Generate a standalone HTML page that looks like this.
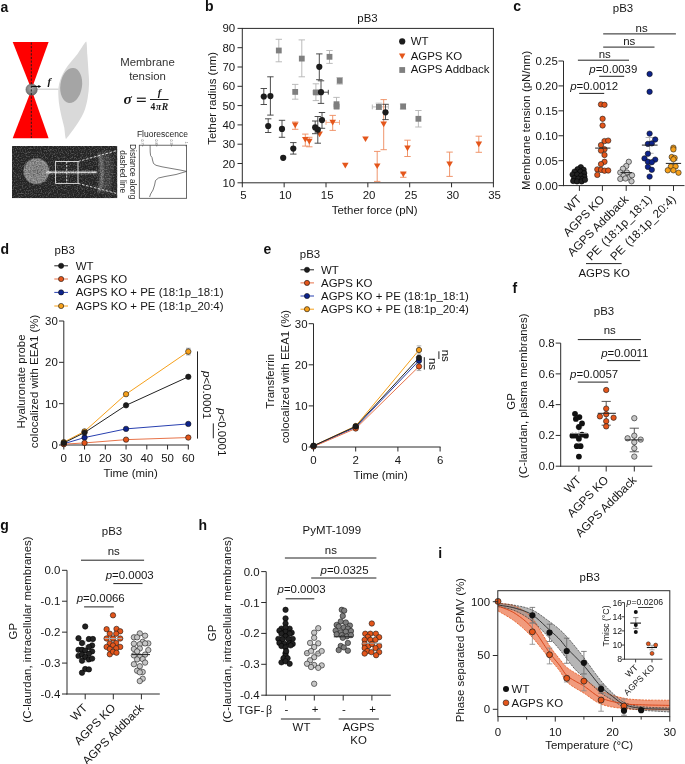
<!DOCTYPE html><html><head><meta charset="utf-8"><style>html,body{margin:0;padding:0;background:#fff;overflow:hidden;width:685px;height:764px;}svg{display:block;will-change:transform;font-family:"Liberation Sans",sans-serif;}</style></head><body><svg width="685" height="764" viewBox="0 0 685 764" font-family="Liberation Sans, sans-serif">
<rect width="685" height="764" fill="#fff"/>
<text x="0.5" y="11.5" font-size="14" fill="#111" font-weight="bold">a</text>
<polygon points="12.7,42 48.6,42 31.5,89.4" fill="#ff0000"/>
<polygon points="31.5,89.4 12.7,138.3 48.6,138.3" fill="#ff0000"/>
<path d="M86.13,41.46 C86.98,41.46 87.12,52.29 87.3,54.6 C87.66,59.22 88.03,64.33 88.32,69.2 C88.61,74.06 89.17,78.93 89.05,83.8 C88.93,88.66 88.52,93.53 87.59,98.39 C86.67,103.26 85.64,108.13 83.5,112.99 C81.36,117.86 77.66,123.26 74.74,127.59 C73.58,129.32 66.69,138.98 65.99,138.98 C65.28,138.98 64.58,129.32 64.23,127.59 C63.36,123.26 61.68,117.86 60.73,112.99 C59.78,108.13 58.81,103.26 58.54,98.39 C58.27,93.53 57.98,88.66 59.12,83.8 C60.27,78.93 62.41,74.06 65.4,69.2 C68.39,64.33 73.63,59.22 77.08,54.6 C78.81,52.29 85.28,41.46 86.13,41.46 Z" fill="#d9d9d9"/>
<ellipse cx="71.2" cy="85.5" rx="10.8" ry="17.6" transform="rotate(8 71.2 85.5)" fill="#a5a5a5"/>
<line x1="37.5" y1="89.2" x2="58.5" y2="89.2" stroke="#d0d0d0" stroke-width="1.2"/>
<defs><radialGradient id="bead" cx="0.45" cy="0.4" r="0.6"><stop offset="0" stop-color="#a8a8a8"/><stop offset="1" stop-color="#6e6e6e"/></radialGradient></defs>
<circle cx="31.6" cy="89.6" r="5.7" fill="url(#bead)" stroke="#555" stroke-width="0.5"/>
<line x1="31.3" y1="42.5" x2="31.3" y2="138" stroke="#1a1a1a" stroke-width="0.9" stroke-dasharray="2.2,1.4"/>
<line x1="31.5" y1="86.4" x2="39.2" y2="86.4" stroke="#000" stroke-width="1"/>
<polygon points="41.2,86.4 38.4,84.9 38.4,87.9" fill="#000"/>
<text x="47.6" y="84.6" font-size="11" fill="#1a1a1a" font-weight="bold" font-style="italic" font-family="Liberation Serif">f</text>
<text x="147.5" y="66" font-size="11.4" fill="#333" text-anchor="middle">Membrane</text>
<text x="147.5" y="80" font-size="11.4" fill="#333" text-anchor="middle">tension</text>
<text x="123.4" y="103.8" font-size="15.5" fill="#1a1a1a" font-weight="bold" font-style="italic" font-family="Liberation Serif" transform="translate(123.4 0) scale(1.0 1) translate(-123.4 0)">σ</text>
<rect x="136.9" y="97.6" width="8.9" height="1.2" fill="#1a1a1a"/>
<rect x="136.9" y="100.8" width="8.9" height="1.2" fill="#1a1a1a"/>
<line x1="150" y1="99.5" x2="168.6" y2="99.5" stroke="#222" stroke-width="1"/>
<text x="159.4" y="95.6" font-size="10.5" fill="#1a1a1a" text-anchor="middle" font-weight="bold" font-style="italic" font-family="Liberation Serif">f</text>
<text x="159.6" y="110.0" font-size="9.6" text-anchor="middle" font-family="Liberation Serif" fill="#1a1a1a" font-weight="bold" letter-spacing="0.6">4<tspan font-style="italic">πR</tspan></text>
<defs><filter id="nzw" x="0" y="0" width="100%" height="100%"><feTurbulence type="fractalNoise" baseFrequency="0.75" numOctaves="2" seed="5"/><feColorMatrix type="matrix" values="0 0 0 0 1  0 0 0 0 1  0 0 0 0 1  3.2 0 0 0 -1.55"/><feGaussianBlur stdDeviation="0.45"/></filter><filter id="nzb" x="0" y="0" width="100%" height="100%"><feTurbulence type="fractalNoise" baseFrequency="0.75" numOctaves="2" seed="5"/><feColorMatrix type="matrix" values="0 0 0 0 0  0 0 0 0 0  0 0 0 0 0  -3.2 0 0 0 1.65"/><feGaussianBlur stdDeviation="0.45"/></filter><radialGradient id="disc" cx="0.5" cy="0.5" r="0.5"><stop offset="0" stop-color="#7c7c7c"/><stop offset="0.72" stop-color="#8c8c8c"/><stop offset="0.86" stop-color="#888"/><stop offset="1" stop-color="#2e2e2e" stop-opacity="0"/></radialGradient><radialGradient id="glow" cx="0.5" cy="0.5" r="0.5"><stop offset="0" stop-color="#ddd"/><stop offset="1" stop-color="#ddd" stop-opacity="0"/></radialGradient><filter id="blur1"><feGaussianBlur stdDeviation="0.7"/></filter><filter id="blur2"><feGaussianBlur stdDeviation="1.6"/></filter><filter id="blur15" x="-50%" y="-20%" width="200%" height="140%"><feGaussianBlur stdDeviation="1.2"/></filter><clipPath id="micclip"><rect x="12" y="146" width="105.4" height="52.3"/></clipPath></defs>
<g clip-path="url(#micclip)">
<rect x="12" y="146" width="105.4" height="52.3" fill="#2a2a2a"/>
<circle cx="36.4" cy="171.2" r="14.2" fill="url(#disc)"/>
<rect x="46" y="170.6" width="52" height="3.6" fill="#777" filter="url(#blur2)" opacity="0.6"/><rect x="46" y="171.5" width="51" height="1.7" fill="#d0d0d0" filter="url(#blur1)"/>
<ellipse cx="48.8" cy="172.2" rx="3" ry="1.8" fill="url(#glow)"/>
<ellipse cx="94" cy="172.3" rx="3" ry="1.5" fill="url(#glow)" opacity="0.7"/>
<ellipse cx="106" cy="172" rx="7" ry="22" fill="#444" filter="url(#blur2)"/>
<path d="M99,153 Q105.5,172 99,192" stroke="#7c7c7c" stroke-width="3" fill="none" filter="url(#blur15)"/>
<rect x="12" y="146" width="105.4" height="52.3" filter="url(#nzw)" opacity="0.22"/>
<rect x="12" y="146" width="105.4" height="52.3" filter="url(#nzb)" opacity="0.30"/>
</g>
<rect x="55.6" y="161.5" width="22.4" height="21.9" fill="none" stroke="#e6e6e6" stroke-width="0.9"/>
<line x1="66.7" y1="161.5" x2="66.7" y2="183.4" stroke="#e6e6e6" stroke-width="0.9" stroke-dasharray="2.2,1.3"/>
<line x1="78" y1="161.5" x2="118" y2="150.3" stroke="#e6e6e6" stroke-width="0.9" stroke-dasharray="2.6,1.5"/>
<line x1="78" y1="183.4" x2="118" y2="193.8" stroke="#e6e6e6" stroke-width="0.9" stroke-dasharray="2.6,1.5"/>
<text x="162.4" y="136.6" font-size="8.5" fill="#222" text-anchor="middle">Fluorescence</text>
<rect x="139.3" y="145.2" width="47.3" height="53.1" fill="none" stroke="#444" stroke-width="0.8"/>
<text x="141.3" y="139.3" font-size="3.9" fill="#666" transform="rotate(90 141.3 139.3)">0.7</text>
<line x1="142.6" y1="145.2" x2="142.6" y2="146.4" stroke="#555" stroke-width="0.7"/>
<text x="155.4" y="139.3" font-size="3.9" fill="#666" transform="rotate(90 155.4 139.3)">0.8</text>
<line x1="156.7" y1="145.2" x2="156.7" y2="146.4" stroke="#555" stroke-width="0.7"/>
<text x="170.2" y="139.3" font-size="3.9" fill="#666" transform="rotate(90 170.2 139.3)">0.9</text>
<line x1="171.5" y1="145.2" x2="171.5" y2="146.4" stroke="#555" stroke-width="0.7"/>
<text x="184.7" y="141.6" font-size="3.9" fill="#666" transform="rotate(90 184.7 141.6)">1</text>
<line x1="186" y1="145.2" x2="186" y2="146.4" stroke="#555" stroke-width="0.7"/>
<polyline points="150.1,145.2 150.2,152 150.6,155.5 152,157.5 152.5,160 153.5,163.5 156,165.3 162,166.8 172,168.6 180,170 186.6,171.4 176,174.5 165,176.5 158.5,178 155.5,180.5 154.6,185 153,190 150.6,194 149.6,197" fill="none" stroke="#444" stroke-width="0.7"/>
<text x="129.6" y="171.7" font-size="8.4" fill="#222" text-anchor="middle" transform="rotate(90 129.6 171.7)">Distance along</text>
<text x="120.3" y="171.7" font-size="8.4" fill="#222" text-anchor="middle" transform="rotate(90 120.3 171.7)">dashed line</text>
<text x="205" y="11.3" font-size="14" fill="#111" font-weight="bold">b</text>
<text x="367.5" y="21.6" font-size="11.45" fill="#161616" text-anchor="middle">pB3</text>
<rect x="242.3" y="28.4" width="251.1" height="154.4" fill="none" stroke="#2b2b2b" stroke-width="1"/>
<line x1="237.5" y1="182.8" x2="242.3" y2="182.8" stroke="#2b2b2b" stroke-width="1"/>
<text x="235.2" y="186.8" font-size="11.45" fill="#161616" text-anchor="end">10</text>
<line x1="237.5" y1="163.5" x2="242.3" y2="163.5" stroke="#2b2b2b" stroke-width="1"/>
<text x="235.2" y="167.5" font-size="11.45" fill="#161616" text-anchor="end">20</text>
<line x1="237.5" y1="144.2" x2="242.3" y2="144.2" stroke="#2b2b2b" stroke-width="1"/>
<text x="235.2" y="148.2" font-size="11.45" fill="#161616" text-anchor="end">30</text>
<line x1="237.5" y1="124.9" x2="242.3" y2="124.9" stroke="#2b2b2b" stroke-width="1"/>
<text x="235.2" y="128.9" font-size="11.45" fill="#161616" text-anchor="end">40</text>
<line x1="237.5" y1="105.6" x2="242.3" y2="105.6" stroke="#2b2b2b" stroke-width="1"/>
<text x="235.2" y="109.6" font-size="11.45" fill="#161616" text-anchor="end">50</text>
<line x1="237.5" y1="86.3" x2="242.3" y2="86.3" stroke="#2b2b2b" stroke-width="1"/>
<text x="235.2" y="90.3" font-size="11.45" fill="#161616" text-anchor="end">60</text>
<line x1="237.5" y1="67" x2="242.3" y2="67" stroke="#2b2b2b" stroke-width="1"/>
<text x="235.2" y="71" font-size="11.45" fill="#161616" text-anchor="end">70</text>
<line x1="237.5" y1="47.7" x2="242.3" y2="47.7" stroke="#2b2b2b" stroke-width="1"/>
<text x="235.2" y="51.7" font-size="11.45" fill="#161616" text-anchor="end">80</text>
<line x1="237.5" y1="28.4" x2="242.3" y2="28.4" stroke="#2b2b2b" stroke-width="1"/>
<text x="235.2" y="32.4" font-size="11.45" fill="#161616" text-anchor="end">90</text>
<line x1="242.3" y1="182.8" x2="242.3" y2="187.3" stroke="#2b2b2b" stroke-width="1"/>
<text x="243.5" y="198.9" font-size="11.45" fill="#161616" text-anchor="middle">5</text>
<line x1="284.15" y1="182.8" x2="284.15" y2="187.3" stroke="#2b2b2b" stroke-width="1"/>
<text x="285.35" y="198.9" font-size="11.45" fill="#161616" text-anchor="middle">10</text>
<line x1="326" y1="182.8" x2="326" y2="187.3" stroke="#2b2b2b" stroke-width="1"/>
<text x="327.2" y="198.9" font-size="11.45" fill="#161616" text-anchor="middle">15</text>
<line x1="367.85" y1="182.8" x2="367.85" y2="187.3" stroke="#2b2b2b" stroke-width="1"/>
<text x="369.05" y="198.9" font-size="11.45" fill="#161616" text-anchor="middle">20</text>
<line x1="409.7" y1="182.8" x2="409.7" y2="187.3" stroke="#2b2b2b" stroke-width="1"/>
<text x="410.9" y="198.9" font-size="11.45" fill="#161616" text-anchor="middle">25</text>
<line x1="451.55" y1="182.8" x2="451.55" y2="187.3" stroke="#2b2b2b" stroke-width="1"/>
<text x="452.75" y="198.9" font-size="11.45" fill="#161616" text-anchor="middle">30</text>
<line x1="493.4" y1="182.8" x2="493.4" y2="187.3" stroke="#2b2b2b" stroke-width="1"/>
<text x="494.6" y="198.9" font-size="11.45" fill="#161616" text-anchor="middle">35</text>
<text x="374.7" y="213.6" font-size="11.45" fill="#161616" text-anchor="middle">Tether force (pN)</text>
<text x="216.2" y="98.3" font-size="11.45" fill="#161616" text-anchor="middle" transform="rotate(-90 216.2 98.3)">Tether radius (nm)</text>
<line x1="278.8" y1="39.3" x2="278.8" y2="61.8" stroke="#b3b3b3" stroke-width="0.9"/>
<line x1="275.6" y1="39.3" x2="282" y2="39.3" stroke="#b3b3b3" stroke-width="0.9"/>
<line x1="275.6" y1="61.8" x2="282" y2="61.8" stroke="#b3b3b3" stroke-width="0.9"/>
<line x1="301.8" y1="39.9" x2="301.8" y2="76.8" stroke="#b3b3b3" stroke-width="0.9"/>
<line x1="298.6" y1="39.9" x2="305" y2="39.9" stroke="#b3b3b3" stroke-width="0.9"/>
<line x1="298.6" y1="76.8" x2="305" y2="76.8" stroke="#b3b3b3" stroke-width="0.9"/>
<line x1="329.5" y1="50.5" x2="329.5" y2="63.4" stroke="#b3b3b3" stroke-width="0.9"/>
<line x1="326.3" y1="50.5" x2="332.7" y2="50.5" stroke="#b3b3b3" stroke-width="0.9"/>
<line x1="326.3" y1="63.4" x2="332.7" y2="63.4" stroke="#b3b3b3" stroke-width="0.9"/>
<line x1="295.2" y1="84.4" x2="295.2" y2="99.2" stroke="#b3b3b3" stroke-width="0.9"/>
<line x1="292" y1="84.4" x2="298.4" y2="84.4" stroke="#b3b3b3" stroke-width="0.9"/>
<line x1="292" y1="99.2" x2="298.4" y2="99.2" stroke="#b3b3b3" stroke-width="0.9"/>
<line x1="315.9" y1="83.8" x2="315.9" y2="100.6" stroke="#b3b3b3" stroke-width="0.9"/>
<line x1="312.7" y1="83.8" x2="319.1" y2="83.8" stroke="#b3b3b3" stroke-width="0.9"/>
<line x1="312.7" y1="100.6" x2="319.1" y2="100.6" stroke="#b3b3b3" stroke-width="0.9"/>
<line x1="313" y1="92.4" x2="318" y2="92.4" stroke="#b3b3b3" stroke-width="0.9"/>
<line x1="313" y1="90" x2="313" y2="94.8" stroke="#b3b3b3" stroke-width="0.9"/>
<line x1="318" y1="90" x2="318" y2="94.8" stroke="#b3b3b3" stroke-width="0.9"/>
<line x1="339.7" y1="77.5" x2="339.7" y2="84.1" stroke="#b3b3b3" stroke-width="0.9"/>
<line x1="336.5" y1="77.5" x2="342.9" y2="77.5" stroke="#b3b3b3" stroke-width="0.9"/>
<line x1="336.5" y1="84.1" x2="342.9" y2="84.1" stroke="#b3b3b3" stroke-width="0.9"/>
<line x1="336.5" y1="97.4" x2="336.5" y2="108" stroke="#b3b3b3" stroke-width="0.9"/>
<line x1="333.3" y1="97.4" x2="339.7" y2="97.4" stroke="#b3b3b3" stroke-width="0.9"/>
<line x1="333.3" y1="108" x2="339.7" y2="108" stroke="#b3b3b3" stroke-width="0.9"/>
<line x1="378.9" y1="103.2" x2="378.9" y2="109.5" stroke="#b3b3b3" stroke-width="0.9"/>
<line x1="375.7" y1="103.2" x2="382.1" y2="103.2" stroke="#b3b3b3" stroke-width="0.9"/>
<line x1="375.7" y1="109.5" x2="382.1" y2="109.5" stroke="#b3b3b3" stroke-width="0.9"/>
<line x1="372.3" y1="106.9" x2="388.4" y2="106.9" stroke="#b3b3b3" stroke-width="0.9"/>
<line x1="372.3" y1="104.5" x2="372.3" y2="109.3" stroke="#b3b3b3" stroke-width="0.9"/>
<line x1="388.4" y1="104.5" x2="388.4" y2="109.3" stroke="#b3b3b3" stroke-width="0.9"/>
<line x1="403.1" y1="104" x2="403.1" y2="109" stroke="#b3b3b3" stroke-width="0.9"/>
<line x1="399.9" y1="104" x2="406.3" y2="104" stroke="#b3b3b3" stroke-width="0.9"/>
<line x1="399.9" y1="109" x2="406.3" y2="109" stroke="#b3b3b3" stroke-width="0.9"/>
<line x1="418.4" y1="110.5" x2="418.4" y2="127" stroke="#b3b3b3" stroke-width="0.9"/>
<line x1="415.2" y1="110.5" x2="421.6" y2="110.5" stroke="#b3b3b3" stroke-width="0.9"/>
<line x1="415.2" y1="127" x2="421.6" y2="127" stroke="#b3b3b3" stroke-width="0.9"/>
<rect x="275.9" y="47.6" width="5.8" height="5.8" fill="#7f7f7f"/>
<rect x="298.9" y="55.7" width="5.8" height="5.8" fill="#7f7f7f"/>
<rect x="326.6" y="53.9" width="5.8" height="5.8" fill="#7f7f7f"/>
<rect x="292.3" y="89" width="5.8" height="5.8" fill="#7f7f7f"/>
<rect x="313" y="89.5" width="5.8" height="5.8" fill="#7f7f7f"/>
<rect x="336.8" y="77.9" width="5.8" height="5.8" fill="#7f7f7f"/>
<rect x="333.6" y="101.3" width="5.8" height="5.8" fill="#7f7f7f"/>
<rect x="333.7" y="103.7" width="5.8" height="5.8" fill="#7f7f7f"/>
<rect x="376" y="104" width="5.8" height="5.8" fill="#7f7f7f"/>
<rect x="400.2" y="103.6" width="5.8" height="5.8" fill="#7f7f7f"/>
<rect x="415.5" y="115.9" width="5.8" height="5.8" fill="#7f7f7f"/>
<line x1="295.2" y1="122" x2="295.2" y2="129.3" stroke="#ee8a5c" stroke-width="0.9"/>
<line x1="292" y1="122" x2="298.4" y2="122" stroke="#ee8a5c" stroke-width="0.9"/>
<line x1="292" y1="129.3" x2="298.4" y2="129.3" stroke="#ee8a5c" stroke-width="0.9"/>
<line x1="305.3" y1="134.1" x2="305.3" y2="146.1" stroke="#ee8a5c" stroke-width="0.9"/>
<line x1="302.1" y1="134.1" x2="308.5" y2="134.1" stroke="#ee8a5c" stroke-width="0.9"/>
<line x1="302.1" y1="146.1" x2="308.5" y2="146.1" stroke="#ee8a5c" stroke-width="0.9"/>
<line x1="309.3" y1="137.3" x2="309.3" y2="146.8" stroke="#ee8a5c" stroke-width="0.9"/>
<line x1="306.1" y1="137.3" x2="312.5" y2="137.3" stroke="#ee8a5c" stroke-width="0.9"/>
<line x1="306.1" y1="146.8" x2="312.5" y2="146.8" stroke="#ee8a5c" stroke-width="0.9"/>
<line x1="332.7" y1="115.4" x2="332.7" y2="130.4" stroke="#ee8a5c" stroke-width="0.9"/>
<line x1="329.5" y1="115.4" x2="335.9" y2="115.4" stroke="#ee8a5c" stroke-width="0.9"/>
<line x1="329.5" y1="130.4" x2="335.9" y2="130.4" stroke="#ee8a5c" stroke-width="0.9"/>
<line x1="326" y1="122.4" x2="339.5" y2="122.4" stroke="#f2a27c" stroke-width="0.9"/>
<line x1="326" y1="120" x2="326" y2="124.8" stroke="#f2a27c" stroke-width="0.9"/>
<line x1="339.5" y1="120" x2="339.5" y2="124.8" stroke="#f2a27c" stroke-width="0.9"/>
<line x1="383.7" y1="99.6" x2="383.7" y2="149.7" stroke="#ee8a5c" stroke-width="0.9"/>
<line x1="380.5" y1="99.6" x2="386.9" y2="99.6" stroke="#ee8a5c" stroke-width="0.9"/>
<line x1="380.5" y1="149.7" x2="386.9" y2="149.7" stroke="#ee8a5c" stroke-width="0.9"/>
<line x1="377.2" y1="151.4" x2="377.2" y2="181.4" stroke="#ee8a5c" stroke-width="0.9"/>
<line x1="374" y1="151.4" x2="380.4" y2="151.4" stroke="#ee8a5c" stroke-width="0.9"/>
<line x1="374" y1="181.4" x2="380.4" y2="181.4" stroke="#ee8a5c" stroke-width="0.9"/>
<line x1="407.5" y1="140.2" x2="407.5" y2="156.5" stroke="#ee8a5c" stroke-width="0.9"/>
<line x1="404.3" y1="140.2" x2="410.7" y2="140.2" stroke="#ee8a5c" stroke-width="0.9"/>
<line x1="404.3" y1="156.5" x2="410.7" y2="156.5" stroke="#ee8a5c" stroke-width="0.9"/>
<line x1="403.3" y1="173" x2="403.3" y2="177.3" stroke="#ee8a5c" stroke-width="0.9"/>
<line x1="400.1" y1="173" x2="406.5" y2="173" stroke="#ee8a5c" stroke-width="0.9"/>
<line x1="400.1" y1="177.3" x2="406.5" y2="177.3" stroke="#ee8a5c" stroke-width="0.9"/>
<line x1="449.6" y1="152.1" x2="449.6" y2="176.4" stroke="#ee8a5c" stroke-width="0.9"/>
<line x1="446.4" y1="152.1" x2="452.8" y2="152.1" stroke="#ee8a5c" stroke-width="0.9"/>
<line x1="446.4" y1="176.4" x2="452.8" y2="176.4" stroke="#ee8a5c" stroke-width="0.9"/>
<line x1="478.8" y1="136.2" x2="478.8" y2="152.3" stroke="#ee8a5c" stroke-width="0.9"/>
<line x1="475.6" y1="136.2" x2="482" y2="136.2" stroke="#ee8a5c" stroke-width="0.9"/>
<line x1="475.6" y1="152.3" x2="482" y2="152.3" stroke="#ee8a5c" stroke-width="0.9"/>
<polygon points="291.9,122.6 298.5,122.6 295.2,128.3" fill="#e4561b"/>
<polygon points="302,136.9 308.6,136.9 305.3,142.6" fill="#e4561b"/>
<polygon points="306,138.8 312.6,138.8 309.3,144.5" fill="#e4561b"/>
<polygon points="316.3,131.5 322.9,131.5 319.6,137.2" fill="#e4561b"/>
<polygon points="329.4,119.8 336,119.8 332.7,125.5" fill="#e4561b"/>
<polygon points="362.2,136.4 368.8,136.4 365.5,142.1" fill="#e4561b"/>
<polygon points="380.4,121.5 387,121.5 383.7,127.2" fill="#e4561b"/>
<polygon points="342,162.7 348.6,162.7 345.3,168.4" fill="#e4561b"/>
<polygon points="373.9,163.4 380.5,163.4 377.2,169.1" fill="#e4561b"/>
<polygon points="404.2,145.5 410.8,145.5 407.5,151.2" fill="#e4561b"/>
<polygon points="400,171.6 406.6,171.6 403.3,177.3" fill="#e4561b"/>
<polygon points="446.3,161.6 452.9,161.6 449.6,167.3" fill="#e4561b"/>
<polygon points="475.5,141.5 482.1,141.5 478.8,147.2" fill="#e4561b"/>
<line x1="263.8" y1="88.5" x2="263.8" y2="104.5" stroke="#3a3a3a" stroke-width="0.9"/>
<line x1="260.6" y1="88.5" x2="267" y2="88.5" stroke="#3a3a3a" stroke-width="0.9"/>
<line x1="260.6" y1="104.5" x2="267" y2="104.5" stroke="#3a3a3a" stroke-width="0.9"/>
<line x1="270.4" y1="76.8" x2="270.4" y2="115.1" stroke="#3a3a3a" stroke-width="0.9"/>
<line x1="267.2" y1="76.8" x2="273.6" y2="76.8" stroke="#3a3a3a" stroke-width="0.9"/>
<line x1="267.2" y1="115.1" x2="273.6" y2="115.1" stroke="#3a3a3a" stroke-width="0.9"/>
<line x1="319.3" y1="53.9" x2="319.3" y2="79.7" stroke="#3a3a3a" stroke-width="0.9"/>
<line x1="316.1" y1="53.9" x2="322.5" y2="53.9" stroke="#3a3a3a" stroke-width="0.9"/>
<line x1="316.1" y1="79.7" x2="322.5" y2="79.7" stroke="#3a3a3a" stroke-width="0.9"/>
<line x1="321" y1="80.8" x2="321" y2="103.4" stroke="#3a3a3a" stroke-width="0.9"/>
<line x1="317.8" y1="80.8" x2="324.2" y2="80.8" stroke="#3a3a3a" stroke-width="0.9"/>
<line x1="317.8" y1="103.4" x2="324.2" y2="103.4" stroke="#3a3a3a" stroke-width="0.9"/>
<line x1="321" y1="92.2" x2="328.3" y2="92.2" stroke="#3a3a3a" stroke-width="0.9"/>
<line x1="321" y1="89.8" x2="321" y2="94.6" stroke="#3a3a3a" stroke-width="0.9"/>
<line x1="328.3" y1="89.8" x2="328.3" y2="94.6" stroke="#3a3a3a" stroke-width="0.9"/>
<line x1="268.2" y1="118.8" x2="268.2" y2="132.5" stroke="#3a3a3a" stroke-width="0.9"/>
<line x1="265" y1="118.8" x2="271.4" y2="118.8" stroke="#3a3a3a" stroke-width="0.9"/>
<line x1="265" y1="132.5" x2="271.4" y2="132.5" stroke="#3a3a3a" stroke-width="0.9"/>
<line x1="282" y1="120.3" x2="282" y2="137.3" stroke="#3a3a3a" stroke-width="0.9"/>
<line x1="278.8" y1="120.3" x2="285.2" y2="120.3" stroke="#3a3a3a" stroke-width="0.9"/>
<line x1="278.8" y1="137.3" x2="285.2" y2="137.3" stroke="#3a3a3a" stroke-width="0.9"/>
<line x1="293.3" y1="142.6" x2="293.3" y2="154.1" stroke="#3a3a3a" stroke-width="0.9"/>
<line x1="290.1" y1="142.6" x2="296.5" y2="142.6" stroke="#3a3a3a" stroke-width="0.9"/>
<line x1="290.1" y1="154.1" x2="296.5" y2="154.1" stroke="#3a3a3a" stroke-width="0.9"/>
<line x1="315.2" y1="121" x2="315.2" y2="133.7" stroke="#3a3a3a" stroke-width="0.9"/>
<line x1="312" y1="121" x2="318.4" y2="121" stroke="#3a3a3a" stroke-width="0.9"/>
<line x1="312" y1="133.7" x2="318.4" y2="133.7" stroke="#3a3a3a" stroke-width="0.9"/>
<line x1="317.8" y1="116.5" x2="317.8" y2="143.2" stroke="#3a3a3a" stroke-width="0.9"/>
<line x1="314.6" y1="116.5" x2="321" y2="116.5" stroke="#3a3a3a" stroke-width="0.9"/>
<line x1="314.6" y1="143.2" x2="321" y2="143.2" stroke="#3a3a3a" stroke-width="0.9"/>
<line x1="322" y1="112.5" x2="322" y2="128.3" stroke="#3a3a3a" stroke-width="0.9"/>
<line x1="318.8" y1="112.5" x2="325.2" y2="112.5" stroke="#3a3a3a" stroke-width="0.9"/>
<line x1="318.8" y1="128.3" x2="325.2" y2="128.3" stroke="#3a3a3a" stroke-width="0.9"/>
<line x1="385.5" y1="104.3" x2="385.5" y2="119.6" stroke="#3a3a3a" stroke-width="0.9"/>
<line x1="382.3" y1="104.3" x2="388.7" y2="104.3" stroke="#3a3a3a" stroke-width="0.9"/>
<line x1="382.3" y1="119.6" x2="388.7" y2="119.6" stroke="#3a3a3a" stroke-width="0.9"/>
<circle cx="263.8" cy="96.5" r="3.1" fill="#1c1c1c"/>
<circle cx="270.4" cy="96.1" r="3.1" fill="#1c1c1c"/>
<circle cx="319.3" cy="66.8" r="3.1" fill="#1c1c1c"/>
<circle cx="321" cy="92.2" r="3.1" fill="#1c1c1c"/>
<circle cx="268.2" cy="126" r="3.1" fill="#1c1c1c"/>
<circle cx="282" cy="128.9" r="3.1" fill="#1c1c1c"/>
<circle cx="283.2" cy="157.8" r="3.1" fill="#1c1c1c"/>
<circle cx="293.3" cy="148.6" r="3.1" fill="#1c1c1c"/>
<circle cx="315.2" cy="127.4" r="3.1" fill="#1c1c1c"/>
<circle cx="317.8" cy="129.7" r="3.1" fill="#1c1c1c"/>
<circle cx="322" cy="120.1" r="3.1" fill="#1c1c1c"/>
<circle cx="385.5" cy="112.3" r="3.1" fill="#1c1c1c"/>
<circle cx="402.2" cy="41.4" r="3.1" fill="#1c1c1c"/>
<polygon points="399,53.5 405.4,53.5 402.2,59.3" fill="#e4561b"/>
<rect x="399.3" y="67.1" width="5.8" height="5.8" fill="#7f7f7f"/>
<text x="410.7" y="44.7" font-size="11.45" fill="#161616">WT</text>
<text x="410.7" y="59.5" font-size="11.45" fill="#161616">AGPS KO</text>
<text x="410.7" y="73.3" font-size="11.45" fill="#161616">AGPS Addback</text>
<text x="513.2" y="11.3" font-size="14" fill="#111" font-weight="bold">c</text>
<text x="623" y="12.4" font-size="11.45" fill="#161616" text-anchor="middle">pB3</text>
<line x1="563.5" y1="61" x2="563.5" y2="186.1" stroke="#2b2b2b" stroke-width="1"/>
<line x1="563" y1="185.6" x2="684.5" y2="185.6" stroke="#2b2b2b" stroke-width="1"/>
<line x1="558.5" y1="185.6" x2="563.5" y2="185.6" stroke="#2b2b2b" stroke-width="1"/>
<text x="557.8" y="189.6" font-size="11.45" fill="#161616" text-anchor="end">0.00</text>
<line x1="558.5" y1="160.68" x2="563.5" y2="160.68" stroke="#2b2b2b" stroke-width="1"/>
<text x="557.8" y="164.68" font-size="11.45" fill="#161616" text-anchor="end">0.05</text>
<line x1="558.5" y1="135.76" x2="563.5" y2="135.76" stroke="#2b2b2b" stroke-width="1"/>
<text x="557.8" y="139.76" font-size="11.45" fill="#161616" text-anchor="end">0.10</text>
<line x1="558.5" y1="110.84" x2="563.5" y2="110.84" stroke="#2b2b2b" stroke-width="1"/>
<text x="557.8" y="114.84" font-size="11.45" fill="#161616" text-anchor="end">0.15</text>
<line x1="558.5" y1="85.92" x2="563.5" y2="85.92" stroke="#2b2b2b" stroke-width="1"/>
<text x="557.8" y="89.92" font-size="11.45" fill="#161616" text-anchor="end">0.20</text>
<line x1="558.5" y1="61" x2="563.5" y2="61" stroke="#2b2b2b" stroke-width="1"/>
<text x="557.8" y="65" font-size="11.45" fill="#161616" text-anchor="end">0.25</text>
<line x1="579.4" y1="185.6" x2="579.4" y2="190.9" stroke="#2b2b2b" stroke-width="1"/>
<line x1="602.4" y1="185.6" x2="602.4" y2="190.9" stroke="#2b2b2b" stroke-width="1"/>
<line x1="626.2" y1="185.6" x2="626.2" y2="190.9" stroke="#2b2b2b" stroke-width="1"/>
<line x1="649.7" y1="185.6" x2="649.7" y2="190.9" stroke="#2b2b2b" stroke-width="1"/>
<line x1="673.5" y1="185.6" x2="673.5" y2="190.9" stroke="#2b2b2b" stroke-width="1"/>
<text x="530.5" y="120.4" font-size="11.45" fill="#161616" text-anchor="middle" transform="rotate(-90 530.5 120.4)">Membrane tension (pN/nm)</text>
<line x1="603.2" y1="33.9" x2="675.9" y2="33.9" stroke="#222" stroke-width="1"/>
<line x1="603.2" y1="47.1" x2="654.5" y2="47.1" stroke="#222" stroke-width="1"/>
<line x1="577.9" y1="60.2" x2="629" y2="60.2" stroke="#222" stroke-width="1"/>
<line x1="599.2" y1="76.3" x2="624.2" y2="76.3" stroke="#222" stroke-width="1"/>
<line x1="579.2" y1="93.4" x2="604.2" y2="93.4" stroke="#222" stroke-width="1"/>
<text x="641.6" y="31.9" font-size="11.45" fill="#161616" text-anchor="middle">ns</text>
<text x="629.3" y="44.8" font-size="11.45" fill="#161616" text-anchor="middle">ns</text>
<text x="604.7" y="57.6" font-size="11.45" fill="#161616" text-anchor="middle">ns</text>
<text x="589.3" y="73.2" font-size="11.45" fill="#161616"><tspan font-style="italic">p</tspan>=0.0039</text>
<text x="570.2" y="89.6" font-size="11.45" fill="#161616"><tspan font-style="italic">p</tspan>=0.0012</text>
<circle cx="580.8" cy="167.2" r="2.7" fill="#222" stroke="#000" stroke-width="0.6"/>
<circle cx="577.6" cy="169.2" r="2.7" fill="#222" stroke="#000" stroke-width="0.6"/>
<circle cx="583.6" cy="169.8" r="2.7" fill="#222" stroke="#000" stroke-width="0.6"/>
<circle cx="574.6" cy="171.6" r="2.7" fill="#222" stroke="#000" stroke-width="0.6"/>
<circle cx="580.4" cy="171.6" r="2.7" fill="#222" stroke="#000" stroke-width="0.6"/>
<circle cx="584.2" cy="173.2" r="2.7" fill="#222" stroke="#000" stroke-width="0.6"/>
<circle cx="572.6" cy="174.6" r="2.7" fill="#222" stroke="#000" stroke-width="0.6"/>
<circle cx="577.2" cy="174.6" r="2.7" fill="#222" stroke="#000" stroke-width="0.6"/>
<circle cx="581.2" cy="175.6" r="2.7" fill="#222" stroke="#000" stroke-width="0.6"/>
<circle cx="584.4" cy="176.8" r="2.7" fill="#222" stroke="#000" stroke-width="0.6"/>
<circle cx="574.2" cy="178.2" r="2.7" fill="#222" stroke="#000" stroke-width="0.6"/>
<circle cx="578.2" cy="178.6" r="2.7" fill="#222" stroke="#000" stroke-width="0.6"/>
<circle cx="582.2" cy="179.2" r="2.7" fill="#222" stroke="#000" stroke-width="0.6"/>
<circle cx="573.2" cy="181" r="2.7" fill="#222" stroke="#000" stroke-width="0.6"/>
<circle cx="577" cy="181.4" r="2.7" fill="#222" stroke="#000" stroke-width="0.6"/>
<circle cx="581.6" cy="181.4" r="2.7" fill="#222" stroke="#000" stroke-width="0.6"/>
<circle cx="585" cy="179.8" r="2.7" fill="#222" stroke="#000" stroke-width="0.6"/>
<circle cx="601" cy="104.4" r="2.7" fill="#e4561b" stroke="#1a1a1a" stroke-width="0.6"/>
<circle cx="604.5" cy="104.8" r="2.7" fill="#e4561b" stroke="#1a1a1a" stroke-width="0.6"/>
<circle cx="602.6" cy="118.8" r="2.7" fill="#e4561b" stroke="#1a1a1a" stroke-width="0.6"/>
<circle cx="602.6" cy="125.5" r="2.7" fill="#e4561b" stroke="#1a1a1a" stroke-width="0.6"/>
<circle cx="604.5" cy="141.1" r="2.7" fill="#e4561b" stroke="#1a1a1a" stroke-width="0.6"/>
<circle cx="608.2" cy="140.6" r="2.7" fill="#e4561b" stroke="#1a1a1a" stroke-width="0.6"/>
<circle cx="601" cy="145.1" r="2.7" fill="#e4561b" stroke="#1a1a1a" stroke-width="0.6"/>
<circle cx="604.5" cy="149.3" r="2.7" fill="#e4561b" stroke="#1a1a1a" stroke-width="0.6"/>
<circle cx="601" cy="150.6" r="2.7" fill="#e4561b" stroke="#1a1a1a" stroke-width="0.6"/>
<circle cx="604.5" cy="155" r="2.7" fill="#e4561b" stroke="#1a1a1a" stroke-width="0.6"/>
<circle cx="604.5" cy="161.8" r="2.7" fill="#e4561b" stroke="#1a1a1a" stroke-width="0.6"/>
<circle cx="601" cy="164.1" r="2.7" fill="#e4561b" stroke="#1a1a1a" stroke-width="0.6"/>
<circle cx="597.3" cy="169.4" r="2.7" fill="#e4561b" stroke="#1a1a1a" stroke-width="0.6"/>
<circle cx="601" cy="169.9" r="2.7" fill="#e4561b" stroke="#1a1a1a" stroke-width="0.6"/>
<circle cx="604.5" cy="170.7" r="2.7" fill="#e4561b" stroke="#1a1a1a" stroke-width="0.6"/>
<circle cx="608.2" cy="170.5" r="2.7" fill="#e4561b" stroke="#1a1a1a" stroke-width="0.6"/>
<circle cx="597.3" cy="174.9" r="2.7" fill="#e4561b" stroke="#1a1a1a" stroke-width="0.6"/>
<line x1="595.1" y1="148.1" x2="610.4" y2="148.1" stroke="#222" stroke-width="1"/>
<circle cx="628.8" cy="161.8" r="2.7" fill="#c6c6c6" stroke="#1a1a1a" stroke-width="0.6"/>
<circle cx="626.3" cy="166" r="2.7" fill="#c6c6c6" stroke="#1a1a1a" stroke-width="0.6"/>
<circle cx="623" cy="168.7" r="2.7" fill="#c6c6c6" stroke="#1a1a1a" stroke-width="0.6"/>
<circle cx="620.3" cy="172.5" r="2.7" fill="#c6c6c6" stroke="#1a1a1a" stroke-width="0.6"/>
<circle cx="626.9" cy="172.5" r="2.7" fill="#c6c6c6" stroke="#1a1a1a" stroke-width="0.6"/>
<circle cx="623.6" cy="175.8" r="2.7" fill="#c6c6c6" stroke="#1a1a1a" stroke-width="0.6"/>
<circle cx="629" cy="177.4" r="2.7" fill="#c6c6c6" stroke="#1a1a1a" stroke-width="0.6"/>
<circle cx="632" cy="175.3" r="2.7" fill="#c6c6c6" stroke="#1a1a1a" stroke-width="0.6"/>
<circle cx="620.3" cy="178.9" r="2.7" fill="#c6c6c6" stroke="#1a1a1a" stroke-width="0.6"/>
<circle cx="631.5" cy="181.3" r="2.7" fill="#c6c6c6" stroke="#1a1a1a" stroke-width="0.6"/>
<circle cx="625.5" cy="178.5" r="2.7" fill="#c6c6c6" stroke="#1a1a1a" stroke-width="0.6"/>
<line x1="620.5" y1="172.6" x2="632" y2="172.6" stroke="#222" stroke-width="1"/>
<line x1="649.6" y1="137.5" x2="649.6" y2="153.3" stroke="#aaa" stroke-width="0.9"/>
<line x1="645.6" y1="137.5" x2="653.6" y2="137.5" stroke="#aaa" stroke-width="0.9"/>
<line x1="645.6" y1="153.3" x2="653.6" y2="153.3" stroke="#aaa" stroke-width="0.9"/>
<circle cx="649.6" cy="74" r="2.7" fill="#0d238c" stroke="#111" stroke-width="0.6"/>
<circle cx="649.6" cy="91.8" r="2.7" fill="#0d238c" stroke="#111" stroke-width="0.6"/>
<circle cx="649.6" cy="133.6" r="2.7" fill="#0d238c" stroke="#111" stroke-width="0.6"/>
<circle cx="655.2" cy="139.5" r="2.7" fill="#0d238c" stroke="#111" stroke-width="0.6"/>
<circle cx="647.9" cy="143.9" r="2.7" fill="#0d238c" stroke="#111" stroke-width="0.6"/>
<circle cx="651.8" cy="143.4" r="2.7" fill="#0d238c" stroke="#111" stroke-width="0.6"/>
<circle cx="647.9" cy="153.7" r="2.7" fill="#0d238c" stroke="#111" stroke-width="0.6"/>
<circle cx="644.5" cy="158.4" r="2.7" fill="#0d238c" stroke="#111" stroke-width="0.6"/>
<circle cx="655.2" cy="159.6" r="2.7" fill="#0d238c" stroke="#111" stroke-width="0.6"/>
<circle cx="647.9" cy="161.8" r="2.7" fill="#0d238c" stroke="#111" stroke-width="0.6"/>
<circle cx="651.8" cy="162.2" r="2.7" fill="#0d238c" stroke="#111" stroke-width="0.6"/>
<circle cx="647.9" cy="166.9" r="2.7" fill="#0d238c" stroke="#111" stroke-width="0.6"/>
<circle cx="651.8" cy="169.8" r="2.7" fill="#0d238c" stroke="#111" stroke-width="0.6"/>
<circle cx="649.6" cy="176.6" r="2.7" fill="#0d238c" stroke="#111" stroke-width="0.6"/>
<line x1="641.9" y1="145.1" x2="657.6" y2="145.1" stroke="#222" stroke-width="1"/>
<line x1="673.4" y1="160.5" x2="673.4" y2="166.3" stroke="#aaa" stroke-width="0.9"/>
<line x1="669.4" y1="160.5" x2="677.4" y2="160.5" stroke="#aaa" stroke-width="0.9"/>
<line x1="669.4" y1="166.3" x2="677.4" y2="166.3" stroke="#aaa" stroke-width="0.9"/>
<circle cx="673.4" cy="147.7" r="2.7" fill="#f6a01a" stroke="#222" stroke-width="0.6"/>
<circle cx="673.4" cy="149.4" r="2.7" fill="#f6a01a" stroke="#222" stroke-width="0.6"/>
<circle cx="671.7" cy="157" r="2.7" fill="#f6a01a" stroke="#222" stroke-width="0.6"/>
<circle cx="674.6" cy="157.9" r="2.7" fill="#f6a01a" stroke="#222" stroke-width="0.6"/>
<circle cx="673.4" cy="159.3" r="2.7" fill="#f6a01a" stroke="#222" stroke-width="0.6"/>
<circle cx="670.9" cy="166.4" r="2.7" fill="#f6a01a" stroke="#222" stroke-width="0.6"/>
<circle cx="675.6" cy="166.4" r="2.7" fill="#f6a01a" stroke="#222" stroke-width="0.6"/>
<circle cx="667.8" cy="170.3" r="2.7" fill="#f6a01a" stroke="#222" stroke-width="0.6"/>
<circle cx="673.4" cy="170.3" r="2.7" fill="#f6a01a" stroke="#222" stroke-width="0.6"/>
<circle cx="678.5" cy="172.7" r="2.7" fill="#f6a01a" stroke="#222" stroke-width="0.6"/>
<line x1="665.8" y1="163.4" x2="681.1" y2="163.4" stroke="#222" stroke-width="1"/>
<text x="582.3" y="200" font-size="11.7" fill="#161616" text-anchor="end" transform="rotate(-45 582.3 200)">WT</text>
<text x="605.3" y="200" font-size="11.7" fill="#161616" text-anchor="end" transform="rotate(-45 605.3 200)">AGPS KO</text>
<text x="629.1" y="200" font-size="11.7" fill="#161616" text-anchor="end" transform="rotate(-45 629.1 200)">AGPS Addback</text>
<text x="652.6" y="200" font-size="11.7" fill="#161616" text-anchor="end" transform="rotate(-45 652.6 200)">PE<tspan dx="1.6"> </tspan>(18:1p_18:1)</text>
<text x="676.4" y="200" font-size="11.7" fill="#161616" text-anchor="end" transform="rotate(-45 676.4 200)">PE<tspan dx="1.6"> </tspan>(18:1p_20:4)</text>
<line x1="586" y1="263.6" x2="621.6" y2="263.6" stroke="#222" stroke-width="1"/>
<text x="604.2" y="276.5" font-size="11.45" fill="#161616" text-anchor="middle">AGPS KO</text>
<text x="0.6" y="253.8" font-size="14" fill="#111" font-weight="bold">d</text>
<text x="54.6" y="254.1" font-size="11.45" fill="#161616">pB3</text>
<line x1="54.3" y1="265.8" x2="68" y2="265.8" stroke="#222" stroke-width="1"/>
<circle cx="61.1" cy="265.8" r="2.6" fill="#1c1c1c" stroke="#111" stroke-width="0.6"/>
<text x="75.7" y="269.8" font-size="11.45" fill="#161616">WT</text>
<line x1="54.3" y1="279" x2="68" y2="279" stroke="#e8744a" stroke-width="1"/>
<circle cx="61.1" cy="279" r="2.6" fill="#e4561b" stroke="#111" stroke-width="0.6"/>
<text x="75.7" y="283" font-size="11.45" fill="#161616">AGPS KO</text>
<line x1="54.3" y1="292.4" x2="68" y2="292.4" stroke="#2840b0" stroke-width="1"/>
<circle cx="61.1" cy="292.4" r="2.6" fill="#0d238c" stroke="#111" stroke-width="0.6"/>
<text x="75.7" y="296.4" font-size="11.45" fill="#161616">AGPS KO + PE (18:1p_18:1)</text>
<line x1="54.3" y1="306" x2="68" y2="306" stroke="#f6a01a" stroke-width="1"/>
<circle cx="61.1" cy="306" r="2.6" fill="#f6a01a" stroke="#111" stroke-width="0.6"/>
<text x="75.7" y="310" font-size="11.45" fill="#161616">AGPS KO + PE (18:1p_20:4)</text>
<line x1="63.8" y1="321" x2="63.8" y2="445.5" stroke="#2b2b2b" stroke-width="1"/>
<line x1="63.3" y1="445" x2="188.8" y2="445" stroke="#2b2b2b" stroke-width="1"/>
<line x1="59" y1="445" x2="63.8" y2="445" stroke="#2b2b2b" stroke-width="1"/>
<text x="57.8" y="449" font-size="11.45" fill="#161616" text-anchor="end">0</text>
<line x1="59" y1="403.67" x2="63.8" y2="403.67" stroke="#2b2b2b" stroke-width="1"/>
<text x="57.8" y="407.67" font-size="11.45" fill="#161616" text-anchor="end">10</text>
<line x1="59" y1="362.33" x2="63.8" y2="362.33" stroke="#2b2b2b" stroke-width="1"/>
<text x="57.8" y="366.33" font-size="11.45" fill="#161616" text-anchor="end">20</text>
<line x1="59" y1="321" x2="63.8" y2="321" stroke="#2b2b2b" stroke-width="1"/>
<text x="57.8" y="325" font-size="11.45" fill="#161616" text-anchor="end">30</text>
<line x1="63.8" y1="445" x2="63.8" y2="449.5" stroke="#2b2b2b" stroke-width="1"/>
<text x="63.8" y="461.6" font-size="11.45" fill="#161616" text-anchor="middle">0</text>
<line x1="84.55" y1="445" x2="84.55" y2="449.5" stroke="#2b2b2b" stroke-width="1"/>
<text x="84.55" y="461.6" font-size="11.45" fill="#161616" text-anchor="middle">10</text>
<line x1="105.3" y1="445" x2="105.3" y2="449.5" stroke="#2b2b2b" stroke-width="1"/>
<text x="105.3" y="461.6" font-size="11.45" fill="#161616" text-anchor="middle">20</text>
<line x1="126.05" y1="445" x2="126.05" y2="449.5" stroke="#2b2b2b" stroke-width="1"/>
<text x="126.05" y="461.6" font-size="11.45" fill="#161616" text-anchor="middle">30</text>
<line x1="146.8" y1="445" x2="146.8" y2="449.5" stroke="#2b2b2b" stroke-width="1"/>
<text x="146.8" y="461.6" font-size="11.45" fill="#161616" text-anchor="middle">40</text>
<line x1="167.55" y1="445" x2="167.55" y2="449.5" stroke="#2b2b2b" stroke-width="1"/>
<text x="167.55" y="461.6" font-size="11.45" fill="#161616" text-anchor="middle">50</text>
<line x1="188.3" y1="445" x2="188.3" y2="449.5" stroke="#2b2b2b" stroke-width="1"/>
<text x="188.3" y="461.6" font-size="11.45" fill="#161616" text-anchor="middle">60</text>
<text x="130.6" y="476.5" font-size="11.45" fill="#161616" text-anchor="middle">Time (min)</text>
<text x="24.6" y="381.5" font-size="11.45" fill="#161616" text-anchor="middle" transform="rotate(-90 24.6 381.5)">Hyaluronate probe</text>
<text x="38.4" y="381.5" font-size="11.45" fill="#161616" text-anchor="middle" transform="rotate(-90 38.4 381.5)">colocalized with EEA1 (%)</text>
<line x1="188.3" y1="348.28" x2="188.3" y2="354.89" stroke="#888" stroke-width="0.8"/>
<line x1="186" y1="348.28" x2="190.6" y2="348.28" stroke="#888" stroke-width="0.8"/>
<line x1="186" y1="354.89" x2="190.6" y2="354.89" stroke="#888" stroke-width="0.8"/>
<polyline points="63.8,442.11 84.55,431.36 126.05,394.16 188.3,351.59" fill="none" stroke="#f6a01a" stroke-width="1"/>
<polyline points="63.8,443.76 84.55,437.56 126.05,428.88 188.3,423.92" fill="none" stroke="#2840b0" stroke-width="1"/>
<polyline points="63.8,444.17 84.55,442.93 126.05,439.63 188.3,437.56" fill="none" stroke="#e8744a" stroke-width="1"/>
<polyline points="63.8,442.93 84.55,432.6 126.05,405.32 188.3,376.8" fill="none" stroke="#222" stroke-width="1"/>
<circle cx="63.8" cy="442.11" r="2.7" fill="#f6a01a" stroke="#111" stroke-width="0.6"/>
<circle cx="84.55" cy="431.36" r="2.7" fill="#f6a01a" stroke="#111" stroke-width="0.6"/>
<circle cx="126.05" cy="394.16" r="2.7" fill="#f6a01a" stroke="#111" stroke-width="0.6"/>
<circle cx="188.3" cy="351.59" r="2.7" fill="#f6a01a" stroke="#111" stroke-width="0.6"/>
<circle cx="63.8" cy="443.76" r="2.7" fill="#0d238c" stroke="#111" stroke-width="0.6"/>
<circle cx="84.55" cy="437.56" r="2.7" fill="#0d238c" stroke="#111" stroke-width="0.6"/>
<circle cx="126.05" cy="428.88" r="2.7" fill="#0d238c" stroke="#111" stroke-width="0.6"/>
<circle cx="188.3" cy="423.92" r="2.7" fill="#0d238c" stroke="#111" stroke-width="0.6"/>
<circle cx="63.8" cy="444.17" r="2.7" fill="#e4561b" stroke="#111" stroke-width="0.6"/>
<circle cx="84.55" cy="442.93" r="2.7" fill="#e4561b" stroke="#111" stroke-width="0.6"/>
<circle cx="126.05" cy="439.63" r="2.7" fill="#e4561b" stroke="#111" stroke-width="0.6"/>
<circle cx="188.3" cy="437.56" r="2.7" fill="#e4561b" stroke="#111" stroke-width="0.6"/>
<circle cx="63.8" cy="442.93" r="2.7" fill="#1c1c1c" stroke="#111" stroke-width="0.6"/>
<circle cx="84.55" cy="432.6" r="2.7" fill="#1c1c1c" stroke="#111" stroke-width="0.6"/>
<circle cx="126.05" cy="405.32" r="2.7" fill="#1c1c1c" stroke="#111" stroke-width="0.6"/>
<circle cx="188.3" cy="376.8" r="2.7" fill="#1c1c1c" stroke="#111" stroke-width="0.6"/>
<line x1="197.5" y1="351.4" x2="197.5" y2="438.6" stroke="#222" stroke-width="1"/>
<text x="202.9" y="395" font-size="11.45" fill="#161616" text-anchor="middle" transform="rotate(90 202.9 395)"><tspan font-style="italic">p</tspan>&lt;0.0001</text>
<line x1="213.3" y1="423.4" x2="213.3" y2="438.3" stroke="#222" stroke-width="1"/>
<text x="218.4" y="432.3" font-size="11.45" fill="#161616" text-anchor="middle" transform="rotate(90 218.4 432.3)"><tspan font-style="italic">p</tspan>&lt;0.0001</text>
<text x="263.4" y="254" font-size="14" fill="#111" font-weight="bold">e</text>
<text x="299.8" y="258" font-size="11.45" fill="#161616">pB3</text>
<line x1="300.5" y1="269.8" x2="314" y2="269.8" stroke="#222" stroke-width="1"/>
<circle cx="307" cy="269.8" r="2.6" fill="#1c1c1c" stroke="#111" stroke-width="0.6"/>
<text x="321" y="273.8" font-size="11.45" fill="#161616">WT</text>
<line x1="300.5" y1="282.9" x2="314" y2="282.9" stroke="#e8744a" stroke-width="1"/>
<circle cx="307" cy="282.9" r="2.6" fill="#e4561b" stroke="#111" stroke-width="0.6"/>
<text x="321" y="286.9" font-size="11.45" fill="#161616">AGPS KO</text>
<line x1="300.5" y1="296" x2="314" y2="296" stroke="#2840b0" stroke-width="1"/>
<circle cx="307" cy="296" r="2.6" fill="#0d238c" stroke="#111" stroke-width="0.6"/>
<text x="321" y="300" font-size="11.45" fill="#161616">AGPS KO + PE (18:1p_18:1)</text>
<line x1="300.5" y1="309.2" x2="314" y2="309.2" stroke="#f6a01a" stroke-width="1"/>
<circle cx="307" cy="309.2" r="2.6" fill="#f6a01a" stroke="#111" stroke-width="0.6"/>
<text x="321" y="313.2" font-size="11.45" fill="#161616">AGPS KO + PE (18:1p_20:4)</text>
<line x1="313.5" y1="323.7" x2="313.5" y2="447.5" stroke="#2b2b2b" stroke-width="1"/>
<line x1="313" y1="447" x2="440.6" y2="447" stroke="#2b2b2b" stroke-width="1"/>
<line x1="308.7" y1="447" x2="313.5" y2="447" stroke="#2b2b2b" stroke-width="1"/>
<text x="307.5" y="451" font-size="11.45" fill="#161616" text-anchor="end">0</text>
<line x1="308.7" y1="405.9" x2="313.5" y2="405.9" stroke="#2b2b2b" stroke-width="1"/>
<text x="307.5" y="409.9" font-size="11.45" fill="#161616" text-anchor="end">10</text>
<line x1="308.7" y1="364.8" x2="313.5" y2="364.8" stroke="#2b2b2b" stroke-width="1"/>
<text x="307.5" y="368.8" font-size="11.45" fill="#161616" text-anchor="end">20</text>
<line x1="308.7" y1="323.7" x2="313.5" y2="323.7" stroke="#2b2b2b" stroke-width="1"/>
<text x="307.5" y="327.7" font-size="11.45" fill="#161616" text-anchor="end">30</text>
<line x1="313.5" y1="447" x2="313.5" y2="451.5" stroke="#2b2b2b" stroke-width="1"/>
<text x="313.5" y="463.6" font-size="11.45" fill="#161616" text-anchor="middle">0</text>
<line x1="355.7" y1="447" x2="355.7" y2="451.5" stroke="#2b2b2b" stroke-width="1"/>
<text x="355.7" y="463.6" font-size="11.45" fill="#161616" text-anchor="middle">2</text>
<line x1="397.9" y1="447" x2="397.9" y2="451.5" stroke="#2b2b2b" stroke-width="1"/>
<text x="397.9" y="463.6" font-size="11.45" fill="#161616" text-anchor="middle">4</text>
<line x1="440.1" y1="447" x2="440.1" y2="451.5" stroke="#2b2b2b" stroke-width="1"/>
<text x="440.1" y="463.6" font-size="11.45" fill="#161616" text-anchor="middle">6</text>
<text x="380.7" y="479.2" font-size="11.45" fill="#161616" text-anchor="middle">Time (min)</text>
<text x="274.2" y="381.2" font-size="11.45" fill="#161616" text-anchor="middle" transform="rotate(-90 274.2 381.2)">Transferrin</text>
<text x="288.9" y="376.6" font-size="11.45" fill="#161616" text-anchor="middle" transform="rotate(-90 288.9 376.6)">colocalized with EEA1 (%)</text>
<line x1="419" y1="345.89" x2="419" y2="354.11" stroke="#999" stroke-width="0.8"/>
<line x1="416.7" y1="345.89" x2="421.3" y2="345.89" stroke="#999" stroke-width="0.8"/>
<line x1="416.7" y1="354.11" x2="421.3" y2="354.11" stroke="#999" stroke-width="0.8"/>
<line x1="419" y1="362.33" x2="419" y2="370.55" stroke="#999" stroke-width="0.8"/>
<line x1="416.7" y1="362.33" x2="421.3" y2="362.33" stroke="#999" stroke-width="0.8"/>
<line x1="416.7" y1="370.55" x2="421.3" y2="370.55" stroke="#999" stroke-width="0.8"/>
<polyline points="313.5,445.77 355.7,426.04 419,350" fill="none" stroke="#f6a01a" stroke-width="1"/>
<polyline points="313.5,446.18 355.7,427.27 419,360.69" fill="none" stroke="#2840b0" stroke-width="1"/>
<polyline points="313.5,446.59 355.7,428.5 419,366.44" fill="none" stroke="#e8744a" stroke-width="1"/>
<polyline points="313.5,445.77 355.7,426.45 419,357.81" fill="none" stroke="#222" stroke-width="1"/>
<circle cx="313.5" cy="445.77" r="2.7" fill="#f6a01a" stroke="#111" stroke-width="0.6"/>
<circle cx="355.7" cy="426.04" r="2.7" fill="#f6a01a" stroke="#111" stroke-width="0.6"/>
<circle cx="419" cy="350" r="2.7" fill="#f6a01a" stroke="#111" stroke-width="0.6"/>
<circle cx="313.5" cy="446.18" r="2.7" fill="#0d238c" stroke="#111" stroke-width="0.6"/>
<circle cx="355.7" cy="427.27" r="2.7" fill="#0d238c" stroke="#111" stroke-width="0.6"/>
<circle cx="419" cy="360.69" r="2.7" fill="#0d238c" stroke="#111" stroke-width="0.6"/>
<circle cx="313.5" cy="446.59" r="2.7" fill="#e4561b" stroke="#111" stroke-width="0.6"/>
<circle cx="355.7" cy="428.5" r="2.7" fill="#e4561b" stroke="#111" stroke-width="0.6"/>
<circle cx="419" cy="366.44" r="2.7" fill="#e4561b" stroke="#111" stroke-width="0.6"/>
<circle cx="313.5" cy="445.77" r="2.7" fill="#1c1c1c" stroke="#111" stroke-width="0.6"/>
<circle cx="355.7" cy="426.45" r="2.7" fill="#1c1c1c" stroke="#111" stroke-width="0.6"/>
<circle cx="419" cy="357.81" r="2.7" fill="#1c1c1c" stroke="#111" stroke-width="0.6"/>
<line x1="424.3" y1="357.2" x2="424.3" y2="369.6" stroke="#222" stroke-width="1"/>
<text x="428.6" y="364" font-size="11.45" fill="#161616" text-anchor="middle" transform="rotate(90 428.6 364)">ns</text>
<line x1="438.9" y1="351.3" x2="438.9" y2="359" stroke="#222" stroke-width="1"/>
<text x="441.5" y="355.7" font-size="11.45" fill="#161616" text-anchor="middle" transform="rotate(90 441.5 355.7)">ns</text>
<text x="512.6" y="293.4" font-size="14" fill="#111" font-weight="bold">f</text>
<text x="604" y="315.1" font-size="11.45" fill="#161616" text-anchor="middle">pB3</text>
<line x1="560.7" y1="343.1" x2="560.7" y2="466.7" stroke="#2b2b2b" stroke-width="1"/>
<line x1="560.2" y1="466.2" x2="652.3" y2="466.2" stroke="#2b2b2b" stroke-width="1"/>
<line x1="555.7" y1="466.2" x2="560.7" y2="466.2" stroke="#2b2b2b" stroke-width="1"/>
<text x="554.6" y="470" font-size="11.45" fill="#161616" text-anchor="end">0.0</text>
<line x1="555.7" y1="435.43" x2="560.7" y2="435.43" stroke="#2b2b2b" stroke-width="1"/>
<text x="554.6" y="439.23" font-size="11.45" fill="#161616" text-anchor="end">0.2</text>
<line x1="555.7" y1="404.65" x2="560.7" y2="404.65" stroke="#2b2b2b" stroke-width="1"/>
<text x="554.6" y="408.45" font-size="11.45" fill="#161616" text-anchor="end">0.4</text>
<line x1="555.7" y1="373.88" x2="560.7" y2="373.88" stroke="#2b2b2b" stroke-width="1"/>
<text x="554.6" y="377.68" font-size="11.45" fill="#161616" text-anchor="end">0.6</text>
<line x1="555.7" y1="343.1" x2="560.7" y2="343.1" stroke="#2b2b2b" stroke-width="1"/>
<text x="554.6" y="346.9" font-size="11.45" fill="#161616" text-anchor="end">0.8</text>
<line x1="578.9" y1="466.2" x2="578.9" y2="471.5" stroke="#2b2b2b" stroke-width="1"/>
<line x1="606.2" y1="466.2" x2="606.2" y2="471.5" stroke="#2b2b2b" stroke-width="1"/>
<line x1="634.3" y1="466.2" x2="634.3" y2="471.5" stroke="#2b2b2b" stroke-width="1"/>
<text x="515.3" y="401.5" font-size="11.45" fill="#161616" text-anchor="middle" transform="rotate(-90 515.3 401.5)">GP</text>
<text x="527.3" y="395.8" font-size="11.45" fill="#161616" text-anchor="middle" transform="rotate(-90 527.3 395.8)">(C-laurdan, plasma membranes)</text>
<line x1="577.8" y1="339.6" x2="640.9" y2="339.6" stroke="#222" stroke-width="1"/>
<text x="609.8" y="334.3" font-size="11.45" fill="#161616" text-anchor="middle">ns</text>
<line x1="607" y1="360.6" x2="640.2" y2="360.6" stroke="#222" stroke-width="1"/>
<text x="601.2" y="356.7" font-size="11.45" fill="#161616"><tspan font-style="italic">p</tspan>=0.0011</text>
<line x1="577.8" y1="382.1" x2="608.2" y2="382.1" stroke="#222" stroke-width="1"/>
<text x="570.1" y="377.7" font-size="11.45" fill="#161616"><tspan font-style="italic">p</tspan>=0.0057</text>
<line x1="578.9" y1="427" x2="578.9" y2="444" stroke="#bbb" stroke-width="0.9"/>
<line x1="575.1" y1="427" x2="582.7" y2="427" stroke="#bbb" stroke-width="0.9"/>
<line x1="575.1" y1="444" x2="582.7" y2="444" stroke="#bbb" stroke-width="0.9"/>
<circle cx="575" cy="413.8" r="2.9" fill="#111"/>
<circle cx="579.4" cy="417.1" r="2.9" fill="#111"/>
<circle cx="575.9" cy="418.9" r="2.9" fill="#111"/>
<circle cx="582" cy="423.4" r="2.9" fill="#111"/>
<circle cx="578.9" cy="427" r="2.9" fill="#111"/>
<circle cx="572.4" cy="435.7" r="2.9" fill="#111"/>
<circle cx="575.9" cy="435.7" r="2.9" fill="#111"/>
<circle cx="582" cy="434.7" r="2.9" fill="#111"/>
<circle cx="585.9" cy="435.7" r="2.9" fill="#111"/>
<circle cx="578.9" cy="438.7" r="2.9" fill="#111"/>
<circle cx="576.8" cy="446.2" r="2.9" fill="#111"/>
<circle cx="580.6" cy="446.2" r="2.9" fill="#111"/>
<circle cx="578.9" cy="456.6" r="2.9" fill="#111"/>
<line x1="570.3" y1="433.5" x2="587.5" y2="433.5" stroke="#888" stroke-width="1"/>
<line x1="606.2" y1="401.4" x2="606.2" y2="425.2" stroke="#444" stroke-width="0.9"/>
<line x1="601.6" y1="401.4" x2="610.8" y2="401.4" stroke="#444" stroke-width="0.9"/>
<line x1="601.6" y1="425.2" x2="610.8" y2="425.2" stroke="#444" stroke-width="0.9"/>
<circle cx="606.2" cy="390" r="2.7" fill="#e4561b" stroke="#1a1a1a" stroke-width="0.6"/>
<circle cx="606.2" cy="408.6" r="2.7" fill="#e4561b" stroke="#1a1a1a" stroke-width="0.6"/>
<circle cx="599.9" cy="416.4" r="2.7" fill="#e4561b" stroke="#1a1a1a" stroke-width="0.6"/>
<circle cx="606.2" cy="414.2" r="2.7" fill="#e4561b" stroke="#1a1a1a" stroke-width="0.6"/>
<circle cx="613.6" cy="417.7" r="2.7" fill="#e4561b" stroke="#1a1a1a" stroke-width="0.6"/>
<circle cx="606.2" cy="421.2" r="2.7" fill="#e4561b" stroke="#1a1a1a" stroke-width="0.6"/>
<circle cx="606.2" cy="426.4" r="2.7" fill="#e4561b" stroke="#1a1a1a" stroke-width="0.6"/>
<line x1="597.8" y1="413.3" x2="615.9" y2="413.3" stroke="#222" stroke-width="1"/>
<line x1="634.3" y1="428.2" x2="634.3" y2="451.8" stroke="#444" stroke-width="0.9"/>
<line x1="629.7" y1="428.2" x2="638.9" y2="428.2" stroke="#444" stroke-width="0.9"/>
<line x1="629.7" y1="451.8" x2="638.9" y2="451.8" stroke="#444" stroke-width="0.9"/>
<circle cx="634.3" cy="418.2" r="2.7" fill="#c6c6c6" stroke="#1a1a1a" stroke-width="0.6"/>
<circle cx="634.3" cy="435.7" r="2.7" fill="#c6c6c6" stroke="#1a1a1a" stroke-width="0.6"/>
<circle cx="627.6" cy="438.3" r="2.7" fill="#c6c6c6" stroke="#1a1a1a" stroke-width="0.6"/>
<circle cx="640.7" cy="439.6" r="2.7" fill="#c6c6c6" stroke="#1a1a1a" stroke-width="0.6"/>
<circle cx="634.3" cy="442.2" r="2.7" fill="#c6c6c6" stroke="#1a1a1a" stroke-width="0.6"/>
<circle cx="634.3" cy="448.3" r="2.7" fill="#c6c6c6" stroke="#1a1a1a" stroke-width="0.6"/>
<circle cx="634.3" cy="456.6" r="2.7" fill="#c6c6c6" stroke="#1a1a1a" stroke-width="0.6"/>
<line x1="625.5" y1="439.9" x2="642.5" y2="439.9" stroke="#222" stroke-width="1"/>
<text x="581.8" y="480.8" font-size="11.7" fill="#161616" text-anchor="end" transform="rotate(-45 581.8 480.8)">WT</text>
<text x="609.1" y="480.8" font-size="11.7" fill="#161616" text-anchor="end" transform="rotate(-45 609.1 480.8)">AGPS KO</text>
<text x="637.2" y="480.8" font-size="11.7" fill="#161616" text-anchor="end" transform="rotate(-45 637.2 480.8)">AGPS Addback</text>
<text x="0.2" y="530" font-size="14" fill="#111" font-weight="bold">g</text>
<text x="112" y="534.6" font-size="11.45" fill="#161616" text-anchor="middle">pB3</text>
<line x1="67" y1="570.3" x2="67" y2="694.5" stroke="#2b2b2b" stroke-width="1"/>
<line x1="66.5" y1="694" x2="159.8" y2="694" stroke="#2b2b2b" stroke-width="1"/>
<line x1="62" y1="570.3" x2="67" y2="570.3" stroke="#2b2b2b" stroke-width="1"/>
<text x="60.3" y="574.3" font-size="11.45" fill="#161616" text-anchor="end">0.0</text>
<line x1="62" y1="601.22" x2="67" y2="601.22" stroke="#2b2b2b" stroke-width="1"/>
<text x="60.3" y="605.22" font-size="11.45" fill="#161616" text-anchor="end">-0.1</text>
<line x1="62" y1="632.15" x2="67" y2="632.15" stroke="#2b2b2b" stroke-width="1"/>
<text x="60.3" y="636.15" font-size="11.45" fill="#161616" text-anchor="end">-0.2</text>
<line x1="62" y1="663.08" x2="67" y2="663.08" stroke="#2b2b2b" stroke-width="1"/>
<text x="60.3" y="667.08" font-size="11.45" fill="#161616" text-anchor="end">-0.3</text>
<line x1="62" y1="694" x2="67" y2="694" stroke="#2b2b2b" stroke-width="1"/>
<text x="60.3" y="698" font-size="11.45" fill="#161616" text-anchor="end">-0.4</text>
<line x1="85.2" y1="694" x2="85.2" y2="699.3" stroke="#2b2b2b" stroke-width="1"/>
<line x1="113.3" y1="694" x2="113.3" y2="699.3" stroke="#2b2b2b" stroke-width="1"/>
<line x1="141.4" y1="694" x2="141.4" y2="699.3" stroke="#2b2b2b" stroke-width="1"/>
<text x="17.4" y="631.2" font-size="11.45" fill="#161616" text-anchor="middle" transform="rotate(-90 17.4 631.2)">GP</text>
<text x="31" y="629.5" font-size="11.45" fill="#161616" text-anchor="middle" transform="rotate(-90 31 629.5)">(C-laurdan, intracellular membranes)</text>
<line x1="81" y1="560.2" x2="144.1" y2="560.2" stroke="#222" stroke-width="1"/>
<text x="113.8" y="554.9" font-size="11.45" fill="#161616" text-anchor="middle">ns</text>
<line x1="113.3" y1="583.6" x2="142.5" y2="583.6" stroke="#222" stroke-width="1"/>
<text x="105.7" y="578.5" font-size="11.45" fill="#161616"><tspan font-style="italic">p</tspan>=0.0003</text>
<line x1="84.1" y1="606.9" x2="113.8" y2="606.9" stroke="#222" stroke-width="1"/>
<text x="76.7" y="601.9" font-size="11.45" fill="#161616"><tspan font-style="italic">p</tspan>=0.0066</text>
<line x1="85.2" y1="641" x2="85.2" y2="662" stroke="#bbb" stroke-width="0.9"/>
<line x1="81.7" y1="641" x2="88.7" y2="641" stroke="#bbb" stroke-width="0.9"/>
<line x1="81.7" y1="662" x2="88.7" y2="662" stroke="#bbb" stroke-width="0.9"/>
<circle cx="85.2" cy="626.5" r="2.7" fill="#222" stroke="#000" stroke-width="0.6"/>
<circle cx="78.5" cy="638.2" r="2.7" fill="#222" stroke="#000" stroke-width="0.6"/>
<circle cx="88.9" cy="639" r="2.7" fill="#222" stroke="#000" stroke-width="0.6"/>
<circle cx="92.9" cy="639" r="2.7" fill="#222" stroke="#000" stroke-width="0.6"/>
<circle cx="82" cy="643" r="2.7" fill="#222" stroke="#000" stroke-width="0.6"/>
<circle cx="92.1" cy="645.4" r="2.7" fill="#222" stroke="#000" stroke-width="0.6"/>
<circle cx="78.5" cy="649.8" r="2.7" fill="#222" stroke="#000" stroke-width="0.6"/>
<circle cx="82" cy="649.8" r="2.7" fill="#222" stroke="#000" stroke-width="0.6"/>
<circle cx="88.9" cy="647" r="2.7" fill="#222" stroke="#000" stroke-width="0.6"/>
<circle cx="92.1" cy="651.4" r="2.7" fill="#222" stroke="#000" stroke-width="0.6"/>
<circle cx="85.2" cy="650.6" r="2.7" fill="#222" stroke="#000" stroke-width="0.6"/>
<circle cx="78.5" cy="655.9" r="2.7" fill="#222" stroke="#000" stroke-width="0.6"/>
<circle cx="82" cy="654.6" r="2.7" fill="#222" stroke="#000" stroke-width="0.6"/>
<circle cx="88.9" cy="653.8" r="2.7" fill="#222" stroke="#000" stroke-width="0.6"/>
<circle cx="85.2" cy="657" r="2.7" fill="#222" stroke="#000" stroke-width="0.6"/>
<circle cx="82" cy="660.7" r="2.7" fill="#222" stroke="#000" stroke-width="0.6"/>
<circle cx="88.9" cy="659.4" r="2.7" fill="#222" stroke="#000" stroke-width="0.6"/>
<circle cx="92.1" cy="658.6" r="2.7" fill="#222" stroke="#000" stroke-width="0.6"/>
<circle cx="85.2" cy="669" r="2.7" fill="#222" stroke="#000" stroke-width="0.6"/>
<circle cx="88.9" cy="669.4" r="2.7" fill="#222" stroke="#000" stroke-width="0.6"/>
<circle cx="82" cy="672.7" r="2.7" fill="#222" stroke="#000" stroke-width="0.6"/>
<circle cx="113" cy="615.3" r="2.7" fill="#e4561b" stroke="#1a1a1a" stroke-width="0.6"/>
<circle cx="106.6" cy="629.2" r="2.7" fill="#e4561b" stroke="#1a1a1a" stroke-width="0.6"/>
<circle cx="116.5" cy="628.9" r="2.7" fill="#e4561b" stroke="#1a1a1a" stroke-width="0.6"/>
<circle cx="120.2" cy="631.3" r="2.7" fill="#e4561b" stroke="#1a1a1a" stroke-width="0.6"/>
<circle cx="109.8" cy="633.7" r="2.7" fill="#e4561b" stroke="#1a1a1a" stroke-width="0.6"/>
<circle cx="116.2" cy="633.7" r="2.7" fill="#e4561b" stroke="#1a1a1a" stroke-width="0.6"/>
<circle cx="106.6" cy="638.5" r="2.7" fill="#e4561b" stroke="#1a1a1a" stroke-width="0.6"/>
<circle cx="113" cy="638.5" r="2.7" fill="#e4561b" stroke="#1a1a1a" stroke-width="0.6"/>
<circle cx="120.2" cy="638.5" r="2.7" fill="#e4561b" stroke="#1a1a1a" stroke-width="0.6"/>
<circle cx="109.8" cy="643.4" r="2.7" fill="#e4561b" stroke="#1a1a1a" stroke-width="0.6"/>
<circle cx="116.2" cy="643" r="2.7" fill="#e4561b" stroke="#1a1a1a" stroke-width="0.6"/>
<circle cx="106.6" cy="646.9" r="2.7" fill="#e4561b" stroke="#1a1a1a" stroke-width="0.6"/>
<circle cx="113" cy="645.4" r="2.7" fill="#e4561b" stroke="#1a1a1a" stroke-width="0.6"/>
<circle cx="120.2" cy="646.9" r="2.7" fill="#e4561b" stroke="#1a1a1a" stroke-width="0.6"/>
<circle cx="109.8" cy="649" r="2.7" fill="#e4561b" stroke="#1a1a1a" stroke-width="0.6"/>
<circle cx="116.2" cy="648.2" r="2.7" fill="#e4561b" stroke="#1a1a1a" stroke-width="0.6"/>
<circle cx="109.8" cy="654.3" r="2.7" fill="#e4561b" stroke="#1a1a1a" stroke-width="0.6"/>
<circle cx="113" cy="651.7" r="2.7" fill="#e4561b" stroke="#1a1a1a" stroke-width="0.6"/>
<circle cx="116.5" cy="652.7" r="2.7" fill="#e4561b" stroke="#1a1a1a" stroke-width="0.6"/>
<line x1="104.5" y1="638.5" x2="122" y2="638.5" stroke="#aaa" stroke-width="1"/>
<circle cx="139.8" cy="633.4" r="2.7" fill="#c6c6c6" stroke="#1a1a1a" stroke-width="0.6"/>
<circle cx="145.1" cy="635.7" r="2.7" fill="#c6c6c6" stroke="#1a1a1a" stroke-width="0.6"/>
<circle cx="133.9" cy="637.3" r="2.7" fill="#c6c6c6" stroke="#1a1a1a" stroke-width="0.6"/>
<circle cx="137.1" cy="637.3" r="2.7" fill="#c6c6c6" stroke="#1a1a1a" stroke-width="0.6"/>
<circle cx="142.7" cy="641.8" r="2.7" fill="#c6c6c6" stroke="#1a1a1a" stroke-width="0.6"/>
<circle cx="148.3" cy="643.4" r="2.7" fill="#c6c6c6" stroke="#1a1a1a" stroke-width="0.6"/>
<circle cx="133.9" cy="643.7" r="2.7" fill="#c6c6c6" stroke="#1a1a1a" stroke-width="0.6"/>
<circle cx="139.8" cy="644.2" r="2.7" fill="#c6c6c6" stroke="#1a1a1a" stroke-width="0.6"/>
<circle cx="145.1" cy="643.4" r="2.7" fill="#c6c6c6" stroke="#1a1a1a" stroke-width="0.6"/>
<circle cx="133.9" cy="649" r="2.7" fill="#c6c6c6" stroke="#1a1a1a" stroke-width="0.6"/>
<circle cx="139.8" cy="648.5" r="2.7" fill="#c6c6c6" stroke="#1a1a1a" stroke-width="0.6"/>
<circle cx="148.3" cy="650.1" r="2.7" fill="#c6c6c6" stroke="#1a1a1a" stroke-width="0.6"/>
<circle cx="137.1" cy="651.4" r="2.7" fill="#c6c6c6" stroke="#1a1a1a" stroke-width="0.6"/>
<circle cx="145.1" cy="654.6" r="2.7" fill="#c6c6c6" stroke="#1a1a1a" stroke-width="0.6"/>
<circle cx="133.9" cy="655.4" r="2.7" fill="#c6c6c6" stroke="#1a1a1a" stroke-width="0.6"/>
<circle cx="139.8" cy="656.5" r="2.7" fill="#c6c6c6" stroke="#1a1a1a" stroke-width="0.6"/>
<circle cx="137.1" cy="659.4" r="2.7" fill="#c6c6c6" stroke="#1a1a1a" stroke-width="0.6"/>
<circle cx="142.7" cy="659.1" r="2.7" fill="#c6c6c6" stroke="#1a1a1a" stroke-width="0.6"/>
<circle cx="145.1" cy="662.6" r="2.7" fill="#c6c6c6" stroke="#1a1a1a" stroke-width="0.6"/>
<circle cx="133.9" cy="664.2" r="2.7" fill="#c6c6c6" stroke="#1a1a1a" stroke-width="0.6"/>
<circle cx="139.8" cy="666.2" r="2.7" fill="#c6c6c6" stroke="#1a1a1a" stroke-width="0.6"/>
<circle cx="137.1" cy="670.7" r="2.7" fill="#c6c6c6" stroke="#1a1a1a" stroke-width="0.6"/>
<circle cx="142.7" cy="672" r="2.7" fill="#c6c6c6" stroke="#1a1a1a" stroke-width="0.6"/>
<circle cx="139.8" cy="672.3" r="2.7" fill="#c6c6c6" stroke="#1a1a1a" stroke-width="0.6"/>
<circle cx="142.7" cy="678.7" r="2.7" fill="#c6c6c6" stroke="#1a1a1a" stroke-width="0.6"/>
<circle cx="139.8" cy="681.1" r="2.7" fill="#c6c6c6" stroke="#1a1a1a" stroke-width="0.6"/>
<line x1="132" y1="654.6" x2="150" y2="654.6" stroke="#222" stroke-width="1"/>
<text x="88.1" y="708.6" font-size="11.7" fill="#161616" text-anchor="end" transform="rotate(-45 88.1 708.6)">WT</text>
<text x="116.2" y="708.6" font-size="11.7" fill="#161616" text-anchor="end" transform="rotate(-45 116.2 708.6)">AGPS KO</text>
<text x="144.3" y="708.6" font-size="11.7" fill="#161616" text-anchor="end" transform="rotate(-45 144.3 708.6)">AGPS Addback</text>
<text x="198.6" y="530" font-size="14" fill="#111" font-weight="bold">h</text>
<text x="331.8" y="533.7" font-size="11.45" fill="#161616" text-anchor="middle">PyMT-1099</text>
<line x1="266.2" y1="571.6" x2="266.2" y2="695.7" stroke="#2b2b2b" stroke-width="1"/>
<line x1="265.7" y1="695.2" x2="390.8" y2="695.2" stroke="#2b2b2b" stroke-width="1"/>
<line x1="261.2" y1="571.6" x2="266.2" y2="571.6" stroke="#2b2b2b" stroke-width="1"/>
<text x="259.6" y="575.6" font-size="11.45" fill="#161616" text-anchor="end">0.0</text>
<line x1="261.2" y1="602.5" x2="266.2" y2="602.5" stroke="#2b2b2b" stroke-width="1"/>
<text x="259.6" y="606.5" font-size="11.45" fill="#161616" text-anchor="end">-0.1</text>
<line x1="261.2" y1="633.4" x2="266.2" y2="633.4" stroke="#2b2b2b" stroke-width="1"/>
<text x="259.6" y="637.4" font-size="11.45" fill="#161616" text-anchor="end">-0.2</text>
<line x1="261.2" y1="664.3" x2="266.2" y2="664.3" stroke="#2b2b2b" stroke-width="1"/>
<text x="259.6" y="668.3" font-size="11.45" fill="#161616" text-anchor="end">-0.3</text>
<line x1="261.2" y1="695.2" x2="266.2" y2="695.2" stroke="#2b2b2b" stroke-width="1"/>
<text x="259.6" y="699.2" font-size="11.45" fill="#161616" text-anchor="end">-0.4</text>
<line x1="285.6" y1="695.2" x2="285.6" y2="700.5" stroke="#2b2b2b" stroke-width="1"/>
<line x1="314.3" y1="695.2" x2="314.3" y2="700.5" stroke="#2b2b2b" stroke-width="1"/>
<line x1="343.2" y1="695.2" x2="343.2" y2="700.5" stroke="#2b2b2b" stroke-width="1"/>
<line x1="371.9" y1="695.2" x2="371.9" y2="700.5" stroke="#2b2b2b" stroke-width="1"/>
<text x="216.3" y="633" font-size="11.45" fill="#161616" text-anchor="middle" transform="rotate(-90 216.3 633)">GP</text>
<text x="230.8" y="629.6" font-size="11.45" fill="#161616" text-anchor="middle" transform="rotate(-90 230.8 629.6)">(C-laurdan, intracellular membranes)</text>
<line x1="284.9" y1="558" x2="376.4" y2="558" stroke="#222" stroke-width="1"/>
<text x="330.9" y="553.6" font-size="11.45" fill="#161616" text-anchor="middle">ns</text>
<line x1="311.2" y1="578" x2="376.4" y2="578" stroke="#222" stroke-width="1"/>
<text x="320.5" y="573.9" font-size="11.45" fill="#161616"><tspan font-style="italic">p</tspan>=0.0325</text>
<line x1="285.7" y1="598.8" x2="314.3" y2="598.8" stroke="#222" stroke-width="1"/>
<text x="277.5" y="593.3" font-size="11.45" fill="#161616"><tspan font-style="italic">p</tspan>=0.0003</text>
<line x1="285.6" y1="640" x2="285.6" y2="653" stroke="#bbb" stroke-width="0.9"/>
<line x1="282.1" y1="640" x2="289.1" y2="640" stroke="#bbb" stroke-width="0.9"/>
<line x1="282.1" y1="653" x2="289.1" y2="653" stroke="#bbb" stroke-width="0.9"/>
<circle cx="285.55" cy="609.81" r="2.7" fill="#222" stroke="#000" stroke-width="0.6"/>
<circle cx="285.55" cy="618.39" r="2.7" fill="#222" stroke="#000" stroke-width="0.6"/>
<circle cx="285.55" cy="623.5" r="2.7" fill="#222" stroke="#000" stroke-width="0.6"/>
<circle cx="281.46" cy="628.61" r="2.7" fill="#222" stroke="#000" stroke-width="0.6"/>
<circle cx="289.63" cy="628.61" r="2.7" fill="#222" stroke="#000" stroke-width="0.6"/>
<circle cx="285.55" cy="627.59" r="2.7" fill="#222" stroke="#000" stroke-width="0.6"/>
<circle cx="279.42" cy="630.66" r="2.7" fill="#222" stroke="#000" stroke-width="0.6"/>
<circle cx="291.68" cy="632.7" r="2.7" fill="#222" stroke="#000" stroke-width="0.6"/>
<circle cx="285.55" cy="631.68" r="2.7" fill="#222" stroke="#000" stroke-width="0.6"/>
<circle cx="281.46" cy="633.72" r="2.7" fill="#222" stroke="#000" stroke-width="0.6"/>
<circle cx="289.63" cy="633.72" r="2.7" fill="#222" stroke="#000" stroke-width="0.6"/>
<circle cx="285.55" cy="636.38" r="2.7" fill="#222" stroke="#000" stroke-width="0.6"/>
<circle cx="278.39" cy="638.83" r="2.7" fill="#222" stroke="#000" stroke-width="0.6"/>
<circle cx="292.7" cy="638.83" r="2.7" fill="#222" stroke="#000" stroke-width="0.6"/>
<circle cx="282.48" cy="639.24" r="2.7" fill="#222" stroke="#000" stroke-width="0.6"/>
<circle cx="288.61" cy="639.24" r="2.7" fill="#222" stroke="#000" stroke-width="0.6"/>
<circle cx="279.42" cy="642.92" r="2.7" fill="#222" stroke="#000" stroke-width="0.6"/>
<circle cx="284.52" cy="643.94" r="2.7" fill="#222" stroke="#000" stroke-width="0.6"/>
<circle cx="289.63" cy="643.33" r="2.7" fill="#222" stroke="#000" stroke-width="0.6"/>
<circle cx="292.7" cy="643.94" r="2.7" fill="#222" stroke="#000" stroke-width="0.6"/>
<circle cx="281.46" cy="645.98" r="2.7" fill="#222" stroke="#000" stroke-width="0.6"/>
<circle cx="290.66" cy="645.37" r="2.7" fill="#222" stroke="#000" stroke-width="0.6"/>
<circle cx="285.55" cy="647.41" r="2.7" fill="#222" stroke="#000" stroke-width="0.6"/>
<circle cx="285.55" cy="653.14" r="2.7" fill="#222" stroke="#000" stroke-width="0.6"/>
<circle cx="285.55" cy="655.59" r="2.7" fill="#222" stroke="#000" stroke-width="0.6"/>
<circle cx="283.5" cy="658.25" r="2.7" fill="#222" stroke="#000" stroke-width="0.6"/>
<circle cx="287.59" cy="658.25" r="2.7" fill="#222" stroke="#000" stroke-width="0.6"/>
<circle cx="281.46" cy="662.33" r="2.7" fill="#222" stroke="#000" stroke-width="0.6"/>
<circle cx="285.55" cy="661.31" r="2.7" fill="#222" stroke="#000" stroke-width="0.6"/>
<circle cx="289.63" cy="663.76" r="2.7" fill="#222" stroke="#000" stroke-width="0.6"/>
<circle cx="286.16" cy="651.09" r="2.7" fill="#222" stroke="#000" stroke-width="0.6"/>
<line x1="276.3" y1="638.8" x2="295.2" y2="638.8" stroke="#222" stroke-width="1"/>
<circle cx="318.25" cy="628.2" r="2.7" fill="#c6c6c6" stroke="#1a1a1a" stroke-width="0.6"/>
<circle cx="314.16" cy="632.7" r="2.7" fill="#c6c6c6" stroke="#1a1a1a" stroke-width="0.6"/>
<circle cx="314.16" cy="637.81" r="2.7" fill="#c6c6c6" stroke="#1a1a1a" stroke-width="0.6"/>
<circle cx="310.07" cy="642.92" r="2.7" fill="#c6c6c6" stroke="#1a1a1a" stroke-width="0.6"/>
<circle cx="318.25" cy="643.33" r="2.7" fill="#c6c6c6" stroke="#1a1a1a" stroke-width="0.6"/>
<circle cx="314.16" cy="647.01" r="2.7" fill="#c6c6c6" stroke="#1a1a1a" stroke-width="0.6"/>
<circle cx="307.01" cy="653.14" r="2.7" fill="#c6c6c6" stroke="#1a1a1a" stroke-width="0.6"/>
<circle cx="311.09" cy="651.09" r="2.7" fill="#c6c6c6" stroke="#1a1a1a" stroke-width="0.6"/>
<circle cx="318.25" cy="653.55" r="2.7" fill="#c6c6c6" stroke="#1a1a1a" stroke-width="0.6"/>
<circle cx="321.72" cy="651.09" r="2.7" fill="#c6c6c6" stroke="#1a1a1a" stroke-width="0.6"/>
<circle cx="314.16" cy="657.22" r="2.7" fill="#c6c6c6" stroke="#1a1a1a" stroke-width="0.6"/>
<circle cx="310.07" cy="660.29" r="2.7" fill="#c6c6c6" stroke="#1a1a1a" stroke-width="0.6"/>
<circle cx="307.01" cy="663.76" r="2.7" fill="#c6c6c6" stroke="#1a1a1a" stroke-width="0.6"/>
<circle cx="314.16" cy="664.99" r="2.7" fill="#c6c6c6" stroke="#1a1a1a" stroke-width="0.6"/>
<circle cx="321.72" cy="665.4" r="2.7" fill="#c6c6c6" stroke="#1a1a1a" stroke-width="0.6"/>
<circle cx="311.09" cy="667.03" r="2.7" fill="#c6c6c6" stroke="#1a1a1a" stroke-width="0.6"/>
<circle cx="318.25" cy="667.85" r="2.7" fill="#c6c6c6" stroke="#1a1a1a" stroke-width="0.6"/>
<circle cx="314.16" cy="683.79" r="2.7" fill="#c6c6c6" stroke="#1a1a1a" stroke-width="0.6"/>
<line x1="305" y1="653.3" x2="323.5" y2="653.3" stroke="#999" stroke-width="1"/>
<circle cx="341.75" cy="609.81" r="2.7" fill="#7d7d7d" stroke="#1a1a1a" stroke-width="0.6"/>
<circle cx="344.2" cy="610.63" r="2.7" fill="#7d7d7d" stroke="#1a1a1a" stroke-width="0.6"/>
<circle cx="342.77" cy="615.94" r="2.7" fill="#7d7d7d" stroke="#1a1a1a" stroke-width="0.6"/>
<circle cx="340.73" cy="621.46" r="2.7" fill="#7d7d7d" stroke="#1a1a1a" stroke-width="0.6"/>
<circle cx="345.84" cy="622.48" r="2.7" fill="#7d7d7d" stroke="#1a1a1a" stroke-width="0.6"/>
<circle cx="336.64" cy="624.93" r="2.7" fill="#7d7d7d" stroke="#1a1a1a" stroke-width="0.6"/>
<circle cx="349.92" cy="625.55" r="2.7" fill="#7d7d7d" stroke="#1a1a1a" stroke-width="0.6"/>
<circle cx="338.68" cy="626.57" r="2.7" fill="#7d7d7d" stroke="#1a1a1a" stroke-width="0.6"/>
<circle cx="343.79" cy="627.59" r="2.7" fill="#7d7d7d" stroke="#1a1a1a" stroke-width="0.6"/>
<circle cx="347.88" cy="628.61" r="2.7" fill="#7d7d7d" stroke="#1a1a1a" stroke-width="0.6"/>
<circle cx="335.62" cy="630.66" r="2.7" fill="#7d7d7d" stroke="#1a1a1a" stroke-width="0.6"/>
<circle cx="340.73" cy="632.29" r="2.7" fill="#7d7d7d" stroke="#1a1a1a" stroke-width="0.6"/>
<circle cx="345.84" cy="631.68" r="2.7" fill="#7d7d7d" stroke="#1a1a1a" stroke-width="0.6"/>
<circle cx="350.95" cy="631.06" r="2.7" fill="#7d7d7d" stroke="#1a1a1a" stroke-width="0.6"/>
<circle cx="336.64" cy="634.33" r="2.7" fill="#7d7d7d" stroke="#1a1a1a" stroke-width="0.6"/>
<circle cx="341.75" cy="635.15" r="2.7" fill="#7d7d7d" stroke="#1a1a1a" stroke-width="0.6"/>
<circle cx="346.86" cy="636.38" r="2.7" fill="#7d7d7d" stroke="#1a1a1a" stroke-width="0.6"/>
<circle cx="350.95" cy="635.15" r="2.7" fill="#7d7d7d" stroke="#1a1a1a" stroke-width="0.6"/>
<circle cx="342.77" cy="637.81" r="2.7" fill="#7d7d7d" stroke="#1a1a1a" stroke-width="0.6"/>
<circle cx="347.88" cy="642.92" r="2.7" fill="#7d7d7d" stroke="#1a1a1a" stroke-width="0.6"/>
<circle cx="340.73" cy="645.98" r="2.7" fill="#7d7d7d" stroke="#1a1a1a" stroke-width="0.6"/>
<circle cx="343.79" cy="647.41" r="2.7" fill="#7d7d7d" stroke="#1a1a1a" stroke-width="0.6"/>
<circle cx="338.68" cy="650.07" r="2.7" fill="#7d7d7d" stroke="#1a1a1a" stroke-width="0.6"/>
<circle cx="347.88" cy="650.68" r="2.7" fill="#7d7d7d" stroke="#1a1a1a" stroke-width="0.6"/>
<line x1="333.8" y1="636.8" x2="352.6" y2="636.8" stroke="#222" stroke-width="1"/>
<circle cx="371.79" cy="623.5" r="2.7" fill="#e4561b" stroke="#1a1a1a" stroke-width="0.6"/>
<circle cx="365.25" cy="633.72" r="2.7" fill="#e4561b" stroke="#1a1a1a" stroke-width="0.6"/>
<circle cx="370.36" cy="633.72" r="2.7" fill="#e4561b" stroke="#1a1a1a" stroke-width="0.6"/>
<circle cx="375.88" cy="633.72" r="2.7" fill="#e4561b" stroke="#1a1a1a" stroke-width="0.6"/>
<circle cx="379.15" cy="637.2" r="2.7" fill="#e4561b" stroke="#1a1a1a" stroke-width="0.6"/>
<circle cx="367.91" cy="636.79" r="2.7" fill="#e4561b" stroke="#1a1a1a" stroke-width="0.6"/>
<circle cx="364.64" cy="639.85" r="2.7" fill="#e4561b" stroke="#1a1a1a" stroke-width="0.6"/>
<circle cx="370.36" cy="639.85" r="2.7" fill="#e4561b" stroke="#1a1a1a" stroke-width="0.6"/>
<circle cx="375.47" cy="639.85" r="2.7" fill="#e4561b" stroke="#1a1a1a" stroke-width="0.6"/>
<circle cx="364.64" cy="643.94" r="2.7" fill="#e4561b" stroke="#1a1a1a" stroke-width="0.6"/>
<circle cx="368.32" cy="645.98" r="2.7" fill="#e4561b" stroke="#1a1a1a" stroke-width="0.6"/>
<circle cx="379.15" cy="645.98" r="2.7" fill="#e4561b" stroke="#1a1a1a" stroke-width="0.6"/>
<circle cx="364.64" cy="648.03" r="2.7" fill="#e4561b" stroke="#1a1a1a" stroke-width="0.6"/>
<circle cx="375.47" cy="648.03" r="2.7" fill="#e4561b" stroke="#1a1a1a" stroke-width="0.6"/>
<circle cx="367.3" cy="651.09" r="2.7" fill="#e4561b" stroke="#1a1a1a" stroke-width="0.6"/>
<circle cx="371.38" cy="652.12" r="2.7" fill="#e4561b" stroke="#1a1a1a" stroke-width="0.6"/>
<circle cx="379.15" cy="652.12" r="2.7" fill="#e4561b" stroke="#1a1a1a" stroke-width="0.6"/>
<circle cx="364.64" cy="653.55" r="2.7" fill="#e4561b" stroke="#1a1a1a" stroke-width="0.6"/>
<circle cx="376.08" cy="655.18" r="2.7" fill="#e4561b" stroke="#1a1a1a" stroke-width="0.6"/>
<circle cx="372" cy="643.94" r="2.7" fill="#e4561b" stroke="#1a1a1a" stroke-width="0.6"/>
<line x1="362.2" y1="643.3" x2="381.6" y2="643.3" stroke="#999" stroke-width="1"/>
<text x="237.6" y="713.6" font-size="11.45" fill="#161616">TGF-<tspan dx="1.6" font-family="Liberation Serif" font-size="12">β</tspan></text>
<text x="286.4" y="713" font-size="11.45" fill="#161616" text-anchor="middle">-</text>
<text x="315.1" y="713" font-size="11.45" fill="#161616" text-anchor="middle">+</text>
<text x="344" y="713" font-size="11.45" fill="#161616" text-anchor="middle">-</text>
<text x="372.7" y="713" font-size="11.45" fill="#161616" text-anchor="middle">+</text>
<line x1="280.9" y1="719" x2="320.6" y2="719" stroke="#222" stroke-width="1"/>
<line x1="338.7" y1="719" x2="378.9" y2="719" stroke="#222" stroke-width="1"/>
<text x="301.5" y="731.2" font-size="11.45" fill="#161616" text-anchor="middle">WT</text>
<text x="358.6" y="731.2" font-size="11.45" fill="#161616" text-anchor="middle">AGPS</text>
<text x="358.6" y="743.6" font-size="11.45" fill="#161616" text-anchor="middle">KO</text>
<text x="438.2" y="557.6" font-size="14" fill="#111" font-weight="bold">i</text>
<text x="589.7" y="581.3" font-size="11.45" fill="#161616" text-anchor="middle">pB3</text>
<defs><clipPath id="iclip"><rect x="497.8" y="590.7" width="172" height="125.9"/></clipPath></defs>
<g clip-path="url(#iclip)">
<path d="M498,602.99 L499.43,603.23 L500.86,603.43 L502.3,603.59 L503.73,603.74 L505.16,603.88 L506.59,604.05 L508.02,604.24 L509.45,604.48 L510.88,604.78 L512.32,605.16 L513.75,605.64 L515.18,606.22 L516.61,606.87 L518.04,607.55 L519.48,608.27 L520.91,609.04 L522.34,609.88 L523.77,610.79 L525.2,611.78 L526.63,612.86 L528.06,614.05 L529.5,615.36 L530.93,616.8 L532.36,618.38 L533.79,620.14 L535.22,622.11 L536.65,624.25 L538.09,626.53 L539.52,628.92 L540.95,631.38 L542.38,633.88 L543.81,636.38 L545.25,638.86 L546.68,641.28 L548.11,643.61 L549.54,645.82 L550.97,647.89 L552.4,649.85 L553.84,651.74 L555.27,653.57 L556.7,655.36 L558.13,657.13 L559.56,658.91 L560.99,660.73 L562.42,662.6 L563.86,664.4 L565.29,666.02 L566.72,667.34 L568.15,668.43 L569.58,669.45 L571.01,670.41 L572.45,671.32 L573.88,672.19 L575.31,673.04 L576.74,673.88 L578.17,674.72 L579.61,675.57 L581.04,676.44 L582.47,677.35 L583.9,678.31 L585.33,679.34 L586.76,680.42 L588.19,681.56 L589.63,682.72 L591.06,683.9 L592.49,685.07 L593.92,686.22 L595.35,687.33 L596.78,688.38 L598.22,689.35 L599.65,690.24 L601.08,691.01 L602.51,691.7 L603.94,692.34 L605.38,692.94 L606.81,693.5 L608.24,694.02 L609.67,694.51 L611.1,694.97 L612.53,695.4 L613.96,695.81 L615.4,696.2 L616.83,696.56 L618.26,696.91 L619.69,697.25 L621.12,697.58 L622.55,697.9 L623.99,698.22 L625.42,698.51 L626.85,698.76 L628.28,698.97 L629.71,699.14 L631.14,699.28 L632.58,699.4 L634.01,699.5 L635.44,699.58 L636.87,699.65 L638.3,699.71 L639.74,699.77 L641.17,699.83 L642.6,699.89 L644.03,699.94 L645.46,699.99 L646.89,700.03 L648.32,700.06 L649.76,700.08 L651.19,700.11 L652.62,700.13 L654.05,700.14 L655.48,700.15 L656.91,700.16 L658.35,700.17 L659.78,700.18 L661.21,700.19 L662.64,700.19 L664.07,700.2 L665.5,700.21 L666.94,700.23 L668.37,700.24 L669.8,700.26 L669.8,709.73 L668.37,709.72 L666.94,709.71 L665.5,709.71 L664.07,709.7 L662.64,709.7 L661.21,709.69 L659.78,709.69 L658.35,709.69 L656.91,709.68 L655.48,709.68 L654.05,709.67 L652.62,709.67 L651.19,709.66 L649.76,709.65 L648.32,709.63 L646.89,709.62 L645.46,709.6 L644.03,709.57 L642.6,709.55 L641.17,709.52 L639.74,709.48 L638.3,709.46 L636.87,709.43 L635.44,709.4 L634.01,709.37 L632.58,709.32 L631.14,709.26 L629.71,709.19 L628.28,709.09 L626.85,708.98 L625.42,708.83 L623.99,708.65 L622.55,708.47 L621.12,708.29 L619.69,708.11 L618.26,707.93 L616.83,707.75 L615.4,707.55 L613.96,707.34 L612.53,707.12 L611.1,706.87 L609.67,706.59 L608.24,706.28 L606.81,705.94 L605.38,705.56 L603.94,705.13 L602.51,704.66 L601.08,704.14 L599.65,703.53 L598.22,702.81 L596.78,702.01 L595.35,701.13 L593.92,700.19 L592.49,699.21 L591.06,698.19 L589.63,697.16 L588.19,696.13 L586.76,695.11 L585.33,694.11 L583.9,693.16 L582.47,692.26 L581.04,691.4 L579.61,690.57 L578.17,689.75 L576.74,688.93 L575.31,688.09 L573.88,687.22 L572.45,686.3 L571.01,685.32 L569.58,684.26 L568.15,683.12 L566.72,681.86 L565.29,680.15 L563.86,677.86 L562.42,675.31 L560.99,672.82 L559.56,670.72 L558.13,668.87 L556.7,667.12 L555.27,665.42 L553.84,663.77 L552.4,662.12 L550.97,660.45 L549.54,658.73 L548.11,656.95 L546.68,655.14 L545.25,653.31 L543.81,651.46 L542.38,649.61 L540.95,647.76 L539.52,645.94 L538.09,644.14 L536.65,642.38 L535.22,640.66 L533.79,639.01 L532.36,637.42 L530.93,635.9 L529.5,634.41 L528.06,632.96 L526.63,631.56 L525.2,630.19 L523.77,628.86 L522.34,627.56 L520.91,626.3 L519.48,625.08 L518.04,623.89 L516.61,622.73 L515.18,621.61 L513.75,620.53 L512.32,619.52 L510.88,618.56 L509.45,617.64 L508.02,616.76 L506.59,615.91 L505.16,615.07 L503.73,614.25 L502.3,613.42 L500.86,612.58 L499.43,611.73 L498,610.85 Z" fill="#ee8a66" fill-opacity="0.85" stroke="none"/>
<path d="M498,603.31 L499.43,603.48 L500.86,603.62 L502.3,603.76 L503.73,603.9 L505.16,604.04 L506.59,604.17 L508.02,604.32 L509.45,604.49 L510.88,604.67 L512.32,604.87 L513.75,605.1 L515.18,605.36 L516.61,605.63 L518.04,605.9 L519.48,606.17 L520.91,606.45 L522.34,606.75 L523.77,607.07 L525.2,607.43 L526.63,607.83 L528.06,608.28 L529.5,608.78 L530.93,609.35 L532.36,609.99 L533.79,610.7 L535.22,611.5 L536.65,612.37 L538.09,613.29 L539.52,614.26 L540.95,615.27 L542.38,616.31 L543.81,617.37 L545.25,618.44 L546.68,619.51 L548.11,620.57 L549.54,621.61 L550.97,622.64 L552.4,623.69 L553.84,624.77 L555.27,625.88 L556.7,627.02 L558.13,628.2 L559.56,629.43 L560.99,630.72 L562.42,632.11 L563.86,633.58 L565.29,635.11 L566.72,636.67 L568.15,638.26 L569.58,639.9 L571.01,641.56 L572.45,643.26 L573.88,644.99 L575.31,646.73 L576.74,648.5 L578.17,650.28 L579.61,652.09 L581.04,653.92 L582.47,655.77 L583.9,657.65 L585.33,659.57 L586.76,661.51 L588.19,663.49 L589.63,665.47 L591.06,667.47 L592.49,669.46 L593.92,671.44 L595.35,673.41 L596.78,675.34 L598.22,677.24 L599.65,679.09 L601.08,680.89 L602.51,682.62 L603.94,684.28 L605.38,685.87 L606.81,687.4 L608.24,688.88 L609.67,690.31 L611.1,691.7 L612.53,693.05 L613.96,694.4 L615.4,695.75 L616.83,697.07 L618.26,698.34 L619.69,699.52 L621.12,700.6 L622.55,701.54 L623.99,702.31 L625.42,702.95 L626.85,703.52 L628.28,704.02 L629.71,704.47 L631.14,704.86 L632.58,705.21 L634.01,705.51 L635.44,705.78 L636.87,706.02 L638.3,706.23 L639.74,706.43 L641.17,706.61 L642.6,706.78 L644.03,706.93 L645.46,707.05 L646.89,707.17 L648.32,707.26 L649.76,707.35 L651.19,707.42 L652.62,707.48 L654.05,707.53 L655.48,707.58 L656.91,707.62 L658.35,707.66 L659.78,707.69 L661.21,707.73 L662.64,707.76 L664.07,707.8 L665.5,707.84 L666.94,707.89 L668.37,707.94 L669.8,708.01 L669.8,711.99 L668.37,711.9 L666.94,711.81 L665.5,711.72 L664.07,711.64 L662.64,711.56 L661.21,711.48 L659.78,711.4 L658.35,711.33 L656.91,711.25 L655.48,711.17 L654.05,711.08 L652.62,710.99 L651.19,710.9 L649.76,710.8 L648.32,710.7 L646.89,710.59 L645.46,710.47 L644.03,710.34 L642.6,710.2 L641.17,710.05 L639.74,709.9 L638.3,709.75 L636.87,709.6 L635.44,709.44 L634.01,709.26 L632.58,709.06 L631.14,708.83 L629.71,708.56 L628.28,708.26 L626.85,707.91 L625.42,707.5 L623.99,707.04 L622.55,706.46 L621.12,705.74 L619.69,704.9 L618.26,703.98 L616.83,703.01 L615.4,702.03 L613.96,701.07 L612.53,700.15 L611.1,699.3 L609.67,698.48 L608.24,697.68 L606.81,696.86 L605.38,696.01 L603.94,695.11 L602.51,694.13 L601.08,693.05 L599.65,691.9 L598.22,690.7 L596.78,689.46 L595.35,688.19 L593.92,686.89 L592.49,685.58 L591.06,684.24 L589.63,682.9 L588.19,681.55 L586.76,680.21 L585.33,678.88 L583.9,677.56 L582.47,676.27 L581.04,675 L579.61,673.72 L578.17,672.41 L576.74,671.03 L575.31,669.57 L573.88,667.98 L572.45,666.24 L571.01,664.41 L569.58,662.51 L568.15,660.6 L566.72,658.73 L565.29,656.85 L563.86,654.95 L562.42,653.05 L560.99,651.21 L559.56,649.46 L558.13,647.76 L556.7,646.08 L555.27,644.43 L553.84,642.81 L552.4,641.23 L550.97,639.68 L549.54,638.18 L548.11,636.68 L546.68,635.18 L545.25,633.67 L543.81,632.17 L542.38,630.68 L540.95,629.21 L539.52,627.77 L538.09,626.37 L536.65,625.01 L535.22,623.7 L533.79,622.46 L532.36,621.28 L530.93,620.17 L529.5,619.1 L528.06,618.08 L526.63,617.1 L525.2,616.17 L523.77,615.28 L522.34,614.43 L520.91,613.63 L519.48,612.87 L518.04,612.16 L516.61,611.48 L515.18,610.85 L513.75,610.27 L512.32,609.77 L510.88,609.34 L509.45,608.96 L508.02,608.62 L506.59,608.31 L505.16,608.02 L503.73,607.75 L502.3,607.47 L500.86,607.19 L499.43,606.88 L498,606.54 Z" fill="#9a9a9a" fill-opacity="0.72" stroke="none"/>
<polyline points="498,602.99 499.43,603.23 500.86,603.43 502.3,603.59 503.73,603.74 505.16,603.88 506.59,604.05 508.02,604.24 509.45,604.48 510.88,604.78 512.32,605.16 513.75,605.64 515.18,606.22 516.61,606.87 518.04,607.55 519.48,608.27 520.91,609.04 522.34,609.88 523.77,610.79 525.2,611.78 526.63,612.86 528.06,614.05 529.5,615.36 530.93,616.8 532.36,618.38 533.79,620.14 535.22,622.11 536.65,624.25 538.09,626.53 539.52,628.92 540.95,631.38 542.38,633.88 543.81,636.38 545.25,638.86 546.68,641.28 548.11,643.61 549.54,645.82 550.97,647.89 552.4,649.85 553.84,651.74 555.27,653.57 556.7,655.36 558.13,657.13 559.56,658.91 560.99,660.73 562.42,662.6 563.86,664.4 565.29,666.02 566.72,667.34 568.15,668.43 569.58,669.45 571.01,670.41 572.45,671.32 573.88,672.19 575.31,673.04 576.74,673.88 578.17,674.72 579.61,675.57 581.04,676.44 582.47,677.35 583.9,678.31 585.33,679.34 586.76,680.42 588.19,681.56 589.63,682.72 591.06,683.9 592.49,685.07 593.92,686.22 595.35,687.33 596.78,688.38 598.22,689.35 599.65,690.24 601.08,691.01 602.51,691.7 603.94,692.34 605.38,692.94 606.81,693.5 608.24,694.02 609.67,694.51 611.1,694.97 612.53,695.4 613.96,695.81 615.4,696.2 616.83,696.56 618.26,696.91 619.69,697.25 621.12,697.58 622.55,697.9 623.99,698.22 625.42,698.51 626.85,698.76 628.28,698.97 629.71,699.14 631.14,699.28 632.58,699.4 634.01,699.5 635.44,699.58 636.87,699.65 638.3,699.71 639.74,699.77 641.17,699.83 642.6,699.89 644.03,699.94 645.46,699.99 646.89,700.03 648.32,700.06 649.76,700.08 651.19,700.11 652.62,700.13 654.05,700.14 655.48,700.15 656.91,700.16 658.35,700.17 659.78,700.18 661.21,700.19 662.64,700.19 664.07,700.2 665.5,700.21 666.94,700.23 668.37,700.24 669.8,700.26" fill="none" stroke="#e4561b" stroke-width="0.8" stroke-dasharray="2.2,1"/>
<polyline points="498,610.85 499.43,611.73 500.86,612.58 502.3,613.42 503.73,614.25 505.16,615.07 506.59,615.91 508.02,616.76 509.45,617.64 510.88,618.56 512.32,619.52 513.75,620.53 515.18,621.61 516.61,622.73 518.04,623.89 519.48,625.08 520.91,626.3 522.34,627.56 523.77,628.86 525.2,630.19 526.63,631.56 528.06,632.96 529.5,634.41 530.93,635.9 532.36,637.42 533.79,639.01 535.22,640.66 536.65,642.38 538.09,644.14 539.52,645.94 540.95,647.76 542.38,649.61 543.81,651.46 545.25,653.31 546.68,655.14 548.11,656.95 549.54,658.73 550.97,660.45 552.4,662.12 553.84,663.77 555.27,665.42 556.7,667.12 558.13,668.87 559.56,670.72 560.99,672.82 562.42,675.31 563.86,677.86 565.29,680.15 566.72,681.86 568.15,683.12 569.58,684.26 571.01,685.32 572.45,686.3 573.88,687.22 575.31,688.09 576.74,688.93 578.17,689.75 579.61,690.57 581.04,691.4 582.47,692.26 583.9,693.16 585.33,694.11 586.76,695.11 588.19,696.13 589.63,697.16 591.06,698.19 592.49,699.21 593.92,700.19 595.35,701.13 596.78,702.01 598.22,702.81 599.65,703.53 601.08,704.14 602.51,704.66 603.94,705.13 605.38,705.56 606.81,705.94 608.24,706.28 609.67,706.59 611.1,706.87 612.53,707.12 613.96,707.34 615.4,707.55 616.83,707.75 618.26,707.93 619.69,708.11 621.12,708.29 622.55,708.47 623.99,708.65 625.42,708.83 626.85,708.98 628.28,709.09 629.71,709.19 631.14,709.26 632.58,709.32 634.01,709.37 635.44,709.4 636.87,709.43 638.3,709.46 639.74,709.48 641.17,709.52 642.6,709.55 644.03,709.57 645.46,709.6 646.89,709.62 648.32,709.63 649.76,709.65 651.19,709.66 652.62,709.67 654.05,709.67 655.48,709.68 656.91,709.68 658.35,709.69 659.78,709.69 661.21,709.69 662.64,709.7 664.07,709.7 665.5,709.71 666.94,709.71 668.37,709.72 669.8,709.73" fill="none" stroke="#e4561b" stroke-width="0.8" stroke-dasharray="2.2,1"/>
<polyline points="498,603.31 499.43,603.48 500.86,603.62 502.3,603.76 503.73,603.9 505.16,604.04 506.59,604.17 508.02,604.32 509.45,604.49 510.88,604.67 512.32,604.87 513.75,605.1 515.18,605.36 516.61,605.63 518.04,605.9 519.48,606.17 520.91,606.45 522.34,606.75 523.77,607.07 525.2,607.43 526.63,607.83 528.06,608.28 529.5,608.78 530.93,609.35 532.36,609.99 533.79,610.7 535.22,611.5 536.65,612.37 538.09,613.29 539.52,614.26 540.95,615.27 542.38,616.31 543.81,617.37 545.25,618.44 546.68,619.51 548.11,620.57 549.54,621.61 550.97,622.64 552.4,623.69 553.84,624.77 555.27,625.88 556.7,627.02 558.13,628.2 559.56,629.43 560.99,630.72 562.42,632.11 563.86,633.58 565.29,635.11 566.72,636.67 568.15,638.26 569.58,639.9 571.01,641.56 572.45,643.26 573.88,644.99 575.31,646.73 576.74,648.5 578.17,650.28 579.61,652.09 581.04,653.92 582.47,655.77 583.9,657.65 585.33,659.57 586.76,661.51 588.19,663.49 589.63,665.47 591.06,667.47 592.49,669.46 593.92,671.44 595.35,673.41 596.78,675.34 598.22,677.24 599.65,679.09 601.08,680.89 602.51,682.62 603.94,684.28 605.38,685.87 606.81,687.4 608.24,688.88 609.67,690.31 611.1,691.7 612.53,693.05 613.96,694.4 615.4,695.75 616.83,697.07 618.26,698.34 619.69,699.52 621.12,700.6 622.55,701.54 623.99,702.31 625.42,702.95 626.85,703.52 628.28,704.02 629.71,704.47 631.14,704.86 632.58,705.21 634.01,705.51 635.44,705.78 636.87,706.02 638.3,706.23 639.74,706.43 641.17,706.61 642.6,706.78 644.03,706.93 645.46,707.05 646.89,707.17 648.32,707.26 649.76,707.35 651.19,707.42 652.62,707.48 654.05,707.53 655.48,707.58 656.91,707.62 658.35,707.66 659.78,707.69 661.21,707.73 662.64,707.76 664.07,707.8 665.5,707.84 666.94,707.89 668.37,707.94 669.8,708.01" fill="none" stroke="#333" stroke-width="0.7" stroke-dasharray="2.2,1"/>
<polyline points="498,606.54 499.43,606.88 500.86,607.19 502.3,607.47 503.73,607.75 505.16,608.02 506.59,608.31 508.02,608.62 509.45,608.96 510.88,609.34 512.32,609.77 513.75,610.27 515.18,610.85 516.61,611.48 518.04,612.16 519.48,612.87 520.91,613.63 522.34,614.43 523.77,615.28 525.2,616.17 526.63,617.1 528.06,618.08 529.5,619.1 530.93,620.17 532.36,621.28 533.79,622.46 535.22,623.7 536.65,625.01 538.09,626.37 539.52,627.77 540.95,629.21 542.38,630.68 543.81,632.17 545.25,633.67 546.68,635.18 548.11,636.68 549.54,638.18 550.97,639.68 552.4,641.23 553.84,642.81 555.27,644.43 556.7,646.08 558.13,647.76 559.56,649.46 560.99,651.21 562.42,653.05 563.86,654.95 565.29,656.85 566.72,658.73 568.15,660.6 569.58,662.51 571.01,664.41 572.45,666.24 573.88,667.98 575.31,669.57 576.74,671.03 578.17,672.41 579.61,673.72 581.04,675 582.47,676.27 583.9,677.56 585.33,678.88 586.76,680.21 588.19,681.55 589.63,682.9 591.06,684.24 592.49,685.58 593.92,686.89 595.35,688.19 596.78,689.46 598.22,690.7 599.65,691.9 601.08,693.05 602.51,694.13 603.94,695.11 605.38,696.01 606.81,696.86 608.24,697.68 609.67,698.48 611.1,699.3 612.53,700.15 613.96,701.07 615.4,702.03 616.83,703.01 618.26,703.98 619.69,704.9 621.12,705.74 622.55,706.46 623.99,707.04 625.42,707.5 626.85,707.91 628.28,708.26 629.71,708.56 631.14,708.83 632.58,709.06 634.01,709.26 635.44,709.44 636.87,709.6 638.3,709.75 639.74,709.9 641.17,710.05 642.6,710.2 644.03,710.34 645.46,710.47 646.89,710.59 648.32,710.7 649.76,710.8 651.19,710.9 652.62,710.99 654.05,711.08 655.48,711.17 656.91,711.25 658.35,711.33 659.78,711.4 661.21,711.48 662.64,711.56 664.07,711.64 665.5,711.72 666.94,711.81 668.37,711.9 669.8,711.99" fill="none" stroke="#333" stroke-width="0.7" stroke-dasharray="2.2,1"/>
<polyline points="498,605.79 499.43,606.41 500.86,607 502.3,607.57 503.73,608.12 505.16,608.67 506.59,609.24 508.02,609.83 509.45,610.45 510.88,611.12 512.32,611.85 513.75,612.65 515.18,613.54 516.61,614.48 518.04,615.45 519.48,616.45 520.91,617.5 522.34,618.59 523.77,619.74 525.2,620.94 526.63,622.21 528.06,623.55 529.5,624.97 530.93,626.47 532.36,628.06 533.79,629.77 535.22,631.62 536.65,633.59 538.09,635.64 539.52,637.77 540.95,639.95 542.38,642.15 543.81,644.36 545.25,646.55 546.68,648.71 548.11,650.8 549.54,652.81 550.97,654.72 552.4,656.54 553.84,658.3 555.27,660.03 556.7,661.76 558.13,663.52 559.56,665.35 560.99,667.35 562.42,669.6 563.86,671.85 565.29,673.87 566.72,675.41 568.15,676.56 569.58,677.62 571.01,678.59 572.45,679.49 573.88,680.33 575.31,681.14 576.74,681.93 578.17,682.71 579.61,683.49 581.04,684.3 582.47,685.15 583.9,686.06 585.33,687.03 586.76,688.06 588.19,689.13 589.63,690.23 591.06,691.34 592.49,692.44 593.92,693.51 595.35,694.54 596.78,695.51 598.22,696.4 599.65,697.2 601.08,697.89 602.51,698.5 603.94,699.06 605.38,699.57 606.81,700.04 608.24,700.47 609.67,700.86 611.1,701.23 612.53,701.57 613.96,701.88 615.4,702.18 616.83,702.45 618.26,702.72 619.69,702.97 621.12,703.22 622.55,703.46 623.99,703.7 625.42,703.93 626.85,704.11 628.28,704.26 629.71,704.37 631.14,704.46 632.58,704.53 634.01,704.58 635.44,704.62 636.87,704.66 638.3,704.69 639.74,704.73 641.17,704.78 642.6,704.83 644.03,704.88 645.46,704.92 646.89,704.97 648.32,705 649.76,705.04 651.19,705.07 652.62,705.1 654.05,705.13 655.48,705.16 656.91,705.18 658.35,705.21 659.78,705.23 661.21,705.26 662.64,705.29 664.07,705.31 665.5,705.34 666.94,705.37 668.37,705.4 669.8,705.43" fill="none" stroke="#d8461a" stroke-width="1"/>
<polyline points="498,604.93 499.43,605.19 500.86,605.42 502.3,605.65 503.73,605.87 505.16,606.09 506.59,606.32 508.02,606.56 509.45,606.82 510.88,607.1 512.32,607.41 513.75,607.76 515.18,608.16 516.61,608.57 518.04,608.98 519.48,609.41 520.91,609.85 522.34,610.31 523.77,610.81 525.2,611.34 526.63,611.93 528.06,612.57 529.5,613.28 530.93,614.07 532.36,614.93 533.79,615.9 535.22,616.96 536.65,618.1 538.09,619.32 539.52,620.59 540.95,621.91 542.38,623.25 543.81,624.62 545.25,625.99 546.68,627.35 548.11,628.69 549.54,630 550.97,631.27 552.4,632.54 553.84,633.82 555.27,635.12 556.7,636.45 558.13,637.83 559.56,639.28 560.99,640.86 562.42,642.63 563.86,644.48 565.29,646.3 566.72,647.97 568.15,649.5 569.58,651 571.01,652.46 572.45,653.9 573.88,655.33 575.31,656.76 576.74,658.19 578.17,659.63 579.61,661.1 581.04,662.6 582.47,664.14 583.9,665.72 585.33,667.37 586.76,669.09 588.19,670.86 589.63,672.67 591.06,674.5 592.49,676.33 593.92,678.16 595.35,679.97 596.78,681.75 598.22,683.47 599.65,685.13 601.08,686.7 602.51,688.17 603.94,689.53 605.38,690.78 606.81,691.97 608.24,693.1 609.67,694.2 611.1,695.29 612.53,696.39 613.96,697.52 615.4,698.68 616.83,699.83 618.26,700.94 619.69,701.99 621.12,702.95 622.55,703.78 623.99,704.46 625.42,705.02 626.85,705.52 628.28,705.96 629.71,706.35 631.14,706.7 632.58,707 634.01,707.27 635.44,707.5 636.87,707.71 638.3,707.9 639.74,708.07 641.17,708.22 642.6,708.37 644.03,708.49 645.46,708.6 646.89,708.69 648.32,708.77 649.76,708.83 651.19,708.89 652.62,708.94 654.05,708.97 655.48,709.01 656.91,709.03 658.35,709.06 659.78,709.08 661.21,709.1 662.64,709.12 664.07,709.15 665.5,709.18 666.94,709.21 668.37,709.25 669.8,709.3" fill="none" stroke="#222" stroke-width="0.9"/>
</g>
<line x1="532.36" y1="607.4" x2="532.36" y2="623" stroke="#666" stroke-width="0.8"/>
<line x1="529.56" y1="607.4" x2="535.16" y2="607.4" stroke="#666" stroke-width="0.8"/>
<line x1="529.56" y1="623" x2="535.16" y2="623" stroke="#666" stroke-width="0.8"/>
<line x1="549.54" y1="624.19" x2="549.54" y2="641.51" stroke="#666" stroke-width="0.8"/>
<line x1="546.74" y1="624.19" x2="552.34" y2="624.19" stroke="#666" stroke-width="0.8"/>
<line x1="546.74" y1="641.51" x2="552.34" y2="641.51" stroke="#666" stroke-width="0.8"/>
<line x1="566.72" y1="638.18" x2="566.72" y2="663.25" stroke="#666" stroke-width="0.8"/>
<line x1="563.92" y1="638.18" x2="569.52" y2="638.18" stroke="#666" stroke-width="0.8"/>
<line x1="563.92" y1="663.25" x2="569.52" y2="663.25" stroke="#666" stroke-width="0.8"/>
<line x1="583.9" y1="651.41" x2="583.9" y2="673.9" stroke="#666" stroke-width="0.8"/>
<line x1="581.1" y1="651.41" x2="586.7" y2="651.41" stroke="#666" stroke-width="0.8"/>
<line x1="581.1" y1="673.9" x2="586.7" y2="673.9" stroke="#666" stroke-width="0.8"/>
<line x1="601.08" y1="684.98" x2="601.08" y2="693.16" stroke="#666" stroke-width="0.8"/>
<line x1="598.28" y1="684.98" x2="603.88" y2="684.98" stroke="#666" stroke-width="0.8"/>
<line x1="598.28" y1="693.16" x2="603.88" y2="693.16" stroke="#666" stroke-width="0.8"/>
<line x1="623.99" y1="708.22" x2="623.99" y2="715.22" stroke="#666" stroke-width="0.8"/>
<line x1="621.19" y1="708.22" x2="626.79" y2="708.22" stroke="#666" stroke-width="0.8"/>
<line x1="621.19" y1="715.22" x2="626.79" y2="715.22" stroke="#666" stroke-width="0.8"/>
<line x1="532.36" y1="623" x2="532.36" y2="644.31" stroke="#888" stroke-width="0.8"/>
<line x1="529.56" y1="623" x2="535.16" y2="623" stroke="#888" stroke-width="0.8"/>
<line x1="529.56" y1="644.31" x2="535.16" y2="644.31" stroke="#888" stroke-width="0.8"/>
<line x1="549.54" y1="648.08" x2="549.54" y2="663.89" stroke="#888" stroke-width="0.8"/>
<line x1="546.74" y1="648.08" x2="552.34" y2="648.08" stroke="#888" stroke-width="0.8"/>
<line x1="546.74" y1="663.89" x2="552.34" y2="663.89" stroke="#888" stroke-width="0.8"/>
<line x1="566.72" y1="676.16" x2="566.72" y2="681.97" stroke="#888" stroke-width="0.8"/>
<line x1="563.92" y1="676.16" x2="569.52" y2="676.16" stroke="#888" stroke-width="0.8"/>
<line x1="563.92" y1="681.97" x2="569.52" y2="681.97" stroke="#888" stroke-width="0.8"/>
<line x1="583.9" y1="673.9" x2="583.9" y2="690.79" stroke="#888" stroke-width="0.8"/>
<line x1="581.1" y1="673.9" x2="586.7" y2="673.9" stroke="#888" stroke-width="0.8"/>
<line x1="581.1" y1="690.79" x2="586.7" y2="690.79" stroke="#888" stroke-width="0.8"/>
<line x1="601.08" y1="697.25" x2="601.08" y2="711.24" stroke="#888" stroke-width="0.8"/>
<line x1="598.28" y1="697.25" x2="603.88" y2="697.25" stroke="#888" stroke-width="0.8"/>
<line x1="598.28" y1="711.24" x2="603.88" y2="711.24" stroke="#888" stroke-width="0.8"/>
<line x1="623.99" y1="698.97" x2="623.99" y2="707.69" stroke="#888" stroke-width="0.8"/>
<line x1="621.19" y1="698.97" x2="626.79" y2="698.97" stroke="#888" stroke-width="0.8"/>
<line x1="621.19" y1="707.69" x2="626.79" y2="707.69" stroke="#888" stroke-width="0.8"/>
<circle cx="498" cy="601.38" r="3" fill="#e4561b" stroke="#1a1a1a" stroke-width="0.7"/>
<circle cx="532.36" cy="631.83" r="3" fill="#e4561b" stroke="#1a1a1a" stroke-width="0.7"/>
<circle cx="549.54" cy="654.75" r="3" fill="#e4561b" stroke="#1a1a1a" stroke-width="0.7"/>
<circle cx="566.72" cy="678.31" r="3" fill="#e4561b" stroke="#1a1a1a" stroke-width="0.7"/>
<circle cx="583.9" cy="681.11" r="3" fill="#e4561b" stroke="#1a1a1a" stroke-width="0.7"/>
<circle cx="601.08" cy="700.05" r="3" fill="#e4561b" stroke="#1a1a1a" stroke-width="0.7"/>
<circle cx="623.99" cy="705.96" r="3" fill="#e4561b" stroke="#1a1a1a" stroke-width="0.7"/>
<circle cx="532.36" cy="615.37" r="3.1" fill="#111"/>
<circle cx="549.54" cy="632.58" r="3.1" fill="#111"/>
<circle cx="566.72" cy="650.98" r="3.1" fill="#111"/>
<circle cx="583.9" cy="662.82" r="3.1" fill="#111"/>
<circle cx="601.08" cy="688.96" r="3.1" fill="#111"/>
<circle cx="623.99" cy="710.7" r="3.1" fill="#111"/>
<circle cx="641.17" cy="710.16" r="3.1" fill="#111"/>
<rect x="497.8" y="590.7" width="172" height="125.9" fill="none" stroke="#2b2b2b" stroke-width="1"/>
<line x1="492.8" y1="709.3" x2="497.8" y2="709.3" stroke="#2b2b2b" stroke-width="1"/>
<text x="490" y="713.1" font-size="11.45" fill="#161616" text-anchor="end">0</text>
<line x1="492.8" y1="655.5" x2="497.8" y2="655.5" stroke="#2b2b2b" stroke-width="1"/>
<text x="490" y="659.3" font-size="11.45" fill="#161616" text-anchor="end">50</text>
<line x1="492.8" y1="601.7" x2="497.8" y2="601.7" stroke="#2b2b2b" stroke-width="1"/>
<text x="490" y="605.5" font-size="11.45" fill="#161616" text-anchor="end">100</text>
<line x1="498" y1="716.6" x2="498" y2="721.6" stroke="#2b2b2b" stroke-width="1"/>
<text x="498" y="736" font-size="11.45" fill="#161616" text-anchor="middle">0</text>
<line x1="526.63" y1="716.6" x2="526.63" y2="719.6" stroke="#2b2b2b" stroke-width="1"/>
<line x1="555.27" y1="716.6" x2="555.27" y2="721.6" stroke="#2b2b2b" stroke-width="1"/>
<text x="555.27" y="736" font-size="11.45" fill="#161616" text-anchor="middle">10</text>
<line x1="583.9" y1="716.6" x2="583.9" y2="719.6" stroke="#2b2b2b" stroke-width="1"/>
<line x1="612.53" y1="716.6" x2="612.53" y2="721.6" stroke="#2b2b2b" stroke-width="1"/>
<text x="612.53" y="736" font-size="11.45" fill="#161616" text-anchor="middle">20</text>
<line x1="641.17" y1="716.6" x2="641.17" y2="719.6" stroke="#2b2b2b" stroke-width="1"/>
<line x1="669.8" y1="716.6" x2="669.8" y2="721.6" stroke="#2b2b2b" stroke-width="1"/>
<text x="669.8" y="736" font-size="11.45" fill="#161616" text-anchor="middle">30</text>
<text x="589.2" y="748.7" font-size="11.45" fill="#161616" text-anchor="middle">Temperature (°C)</text>
<text x="463.6" y="650" font-size="11.45" fill="#161616" text-anchor="middle" transform="rotate(-90 463.6 650)">Phase separated GPMV (%)</text>
<circle cx="506" cy="689" r="3" fill="#111"/>
<text x="511.6" y="693" font-size="11.45" fill="#161616">WT</text>
<circle cx="506" cy="702.8" r="2.9" fill="#e4561b" stroke="#1a1a1a" stroke-width="0.6"/>
<text x="511.6" y="706.8" font-size="11.45" fill="#161616">AGPS KO</text>
<line x1="624.5" y1="602.6" x2="624.5" y2="659.6" stroke="#2b2b2b" stroke-width="0.9"/>
<line x1="624.1" y1="659.2" x2="662.4" y2="659.2" stroke="#2b2b2b" stroke-width="0.9"/>
<line x1="621.5" y1="659.2" x2="624.5" y2="659.2" stroke="#2b2b2b" stroke-width="0.9"/>
<text x="622.2" y="662.3" font-size="8.7" fill="#161616" text-anchor="end">8</text>
<line x1="621.5" y1="645.05" x2="624.5" y2="645.05" stroke="#2b2b2b" stroke-width="0.9"/>
<text x="622.2" y="648.15" font-size="8.7" fill="#161616" text-anchor="end">10</text>
<line x1="621.5" y1="630.9" x2="624.5" y2="630.9" stroke="#2b2b2b" stroke-width="0.9"/>
<text x="622.2" y="634" font-size="8.7" fill="#161616" text-anchor="end">12</text>
<line x1="621.5" y1="616.75" x2="624.5" y2="616.75" stroke="#2b2b2b" stroke-width="0.9"/>
<text x="622.2" y="619.85" font-size="8.7" fill="#161616" text-anchor="end">14</text>
<line x1="621.5" y1="602.6" x2="624.5" y2="602.6" stroke="#2b2b2b" stroke-width="0.9"/>
<text x="622.2" y="605.7" font-size="8.7" fill="#161616" text-anchor="end">16</text>
<line x1="635.6" y1="659.2" x2="635.6" y2="662.4" stroke="#2b2b2b" stroke-width="0.9"/>
<line x1="652" y1="659.2" x2="652" y2="662.4" stroke="#2b2b2b" stroke-width="0.9"/>
<text x="608.6" y="626" font-size="8.7" fill="#161616" text-anchor="middle" transform="rotate(-90 608.6 626)">Tmisc (°C)</text>
<line x1="638" y1="607.5" x2="653.3" y2="607.5" stroke="#222" stroke-width="0.9"/>
<text x="626.6" y="605.0" font-size="8.7" fill="#161616"><tspan font-style="italic">p</tspan>=0.0206</text>
<line x1="635.8" y1="617.6" x2="635.8" y2="628.4" stroke="#666" stroke-width="0.8"/>
<line x1="633.2" y1="617.6" x2="638.4" y2="617.6" stroke="#666" stroke-width="0.8"/>
<line x1="633.2" y1="628.4" x2="638.4" y2="628.4" stroke="#666" stroke-width="0.8"/>
<circle cx="635.8" cy="612.1" r="2" fill="#111"/>
<circle cx="635.8" cy="624.9" r="2" fill="#111"/>
<circle cx="635.8" cy="631.9" r="2" fill="#111"/>
<line x1="630.3" y1="623.1" x2="641" y2="623.1" stroke="#111" stroke-width="1.1"/>
<line x1="652" y1="645.3" x2="652" y2="649.8" stroke="#999" stroke-width="0.8"/>
<line x1="649.4" y1="645.3" x2="654.6" y2="645.3" stroke="#999" stroke-width="0.8"/>
<line x1="649.4" y1="649.8" x2="654.6" y2="649.8" stroke="#999" stroke-width="0.8"/>
<circle cx="648.3" cy="643.8" r="2" fill="#e4561b" stroke="#1a1a1a" stroke-width="0.5"/>
<circle cx="655.7" cy="645.1" r="2" fill="#e4561b" stroke="#1a1a1a" stroke-width="0.5"/>
<circle cx="652" cy="653.4" r="2" fill="#e4561b" stroke="#1a1a1a" stroke-width="0.5"/>
<line x1="646.8" y1="647.5" x2="657" y2="647.5" stroke="#111" stroke-width="1.1"/>
<text x="638.4" y="668.3" font-size="8.7" fill="#161616" text-anchor="end" transform="rotate(-45 638.4 668.3)">WT</text>
<text x="655" y="668.3" font-size="8.7" fill="#161616" text-anchor="end" transform="rotate(-45 655 668.3)">AGPS KO</text>
</svg></body></html>
